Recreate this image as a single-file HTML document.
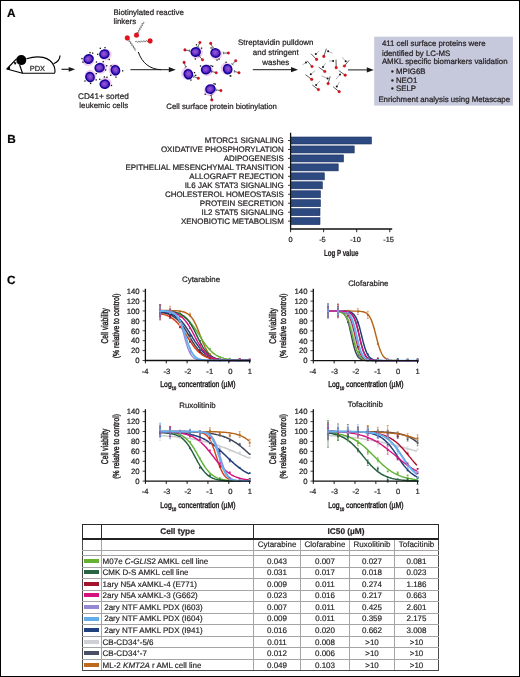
<!DOCTYPE html>
<html><head><meta charset="utf-8"><title>Figure</title>
<style>
html,body{margin:0;padding:0;background:#fff;}
body{width:520px;height:677px;position:relative;overflow:hidden;font-family:"Liberation Sans", sans-serif;color:#231f20;text-rendering:geometricPrecision;}
#frame{position:absolute;left:0;top:0;width:520px;height:677px;box-sizing:border-box;border:1px solid #000;pointer-events:none;}
svg{position:absolute;left:0;top:0;will-change:transform;}
svg text{font-family:"Liberation Sans", sans-serif;text-rendering:geometricPrecision;stroke:#231f20;stroke-width:0.22px;}
svg text.ax{stroke-width:0.42px;}
table{will-change:transform;position:absolute;left:81.5px;top:523.5px;border-collapse:collapse;table-layout:fixed;font-size:8px;-webkit-text-stroke:0.18px #231f20;}
td{padding:0;text-align:center;white-space:nowrap;overflow:hidden;border:1px solid #a4a4a4;line-height:8px;vertical-align:top;}
td:first-child{border-left-color:#4a4a4a;}
td:last-child{border-right-color:#4a4a4a;}
tr:last-child td{border-bottom-color:#474747;}
tr.h1 td{height:14px;font-weight:bold;font-size:8.3px;border-color:#2a2a2a;border-bottom:2px solid #222;padding-top:1.7px;box-sizing:border-box;}
tr.h2 td{height:9px;padding-top:1.6px;}
tr.h3 td{height:4px;}
tr.r td{height:8.85px;padding-top:1.7px;}
td.sw span{display:inline-block;width:14.8px;height:4px;margin-top:1.1px;vertical-align:top;margin-left:-0.6px;}
td.nm{text-align:left;padding-left:0.6px;}
sup{font-size:5px;vertical-align:3px;line-height:0;}
</style></head>
<body>
<svg width="520" height="677" viewBox="0 0 520 677"><text x="7.10" y="16.90" font-size="11.8" text-anchor="start" font-weight="bold" fill="#000" >A</text><text x="7.30" y="142.90" font-size="11.8" text-anchor="start" font-weight="bold" fill="#000" >B</text><text x="6.90" y="284.30" font-size="11.8" text-anchor="start" font-weight="bold" fill="#000" >C</text><g fill="none" stroke="#000" stroke-width="1.15" stroke-linejoin="round"><path d="M26.5,58.8 C38,55 50,56.5 54,66 C55.5,70 55,73 54.5,73.2 L22.5,73.2 L6.9,69 L16.7,58.6"/><path d="M19.6,64.8 L22.5,73.2"/><path d="M53.5,63.8 C58,62 60,58.5 60,55.6"/></g><circle cx="21.3" cy="60.1" r="5.0" fill="#000"/><path d="M6.4,69.2 L9.8,66.6 L10.2,69.8 Z" fill="#000"/><path d="M13.6,62.0 L16.8,62.6 L15.0,65.0 Z" fill="#000"/><text x="29.80" y="70.60" font-size="7.4" text-anchor="start" font-weight="normal" fill="#231f20" >PDX</text><line x1="61.5" y1="69.3" x2="69.7" y2="69.3" stroke="#1a1a1a" stroke-width="1.15"/><path d="M68.7,66.89999999999999 L75.2,69.3 L68.7,71.7 Z" fill="#1a1a1a"/><defs><radialGradient id="cg" cx="0.45" cy="0.45" r="0.6"><stop offset="0" stop-color="#9c5ad6"/><stop offset="0.5" stop-color="#7036c8"/><stop offset="1" stop-color="#2e0cb0"/></radialGradient></defs><g transform="translate(88.6,59.0) rotate(-25)"><ellipse cx="-0.8" cy="1" rx="5.85" ry="5.3999999999999995" fill="#f2d0ef" stroke="#e6b8e6" stroke-width="0.4"/><ellipse cx="0" cy="0" rx="4.55" ry="4.1" fill="url(#cg)" stroke="#14049a" stroke-width="1.5"/></g><rect x="91.97" y="52.51" width="1.3" height="1.3" fill="#111"/><rect x="82.28" y="61.52" width="1.3" height="1.3" fill="#111"/><rect x="81.33" y="57.93" width="1.3" height="1.3" fill="#111"/><rect x="89.38" y="51.98" width="1.3" height="1.3" fill="#111"/><g transform="translate(104.4,54.1) rotate(-15)"><ellipse cx="1" cy="1" rx="5.85" ry="5.3999999999999995" fill="#f2d0ef" stroke="#e6b8e6" stroke-width="0.4"/><ellipse cx="0" cy="0" rx="4.55" ry="4.1" fill="url(#cg)" stroke="#14049a" stroke-width="1.5"/></g><rect x="108.59" y="58.89" width="1.3" height="1.3" fill="#111"/><rect x="104.36" y="47.02" width="1.3" height="1.3" fill="#111"/><rect x="97.06" y="53.69" width="1.3" height="1.3" fill="#111"/><rect x="99.66" y="47.68" width="1.3" height="1.3" fill="#111"/><g transform="translate(99.6,67.7) rotate(-20)"><ellipse cx="1" cy="0.8" rx="5.85" ry="5.3999999999999995" fill="#f2d0ef" stroke="#e6b8e6" stroke-width="0.4"/><ellipse cx="0" cy="0" rx="4.55" ry="4.1" fill="url(#cg)" stroke="#14049a" stroke-width="1.5"/></g><rect x="106.06" y="65.10" width="1.3" height="1.3" fill="#111"/><rect x="104.91" y="69.29" width="1.3" height="1.3" fill="#111"/><rect x="102.62" y="61.01" width="1.3" height="1.3" fill="#111"/><rect x="95.83" y="61.35" width="1.3" height="1.3" fill="#111"/><g transform="translate(115.4,70.2) rotate(70)"><ellipse cx="-0.8" cy="1" rx="5.85" ry="5.3999999999999995" fill="#f2d0ef" stroke="#e6b8e6" stroke-width="0.4"/><ellipse cx="0" cy="0" rx="4.55" ry="4.1" fill="url(#cg)" stroke="#14049a" stroke-width="1.5"/></g><rect x="115.32" y="76.43" width="1.3" height="1.3" fill="#111"/><rect x="110.06" y="74.65" width="1.3" height="1.3" fill="#111"/><rect x="110.38" y="65.14" width="1.3" height="1.3" fill="#111"/><rect x="121.98" y="70.20" width="1.3" height="1.3" fill="#111"/><g transform="translate(90.0,77.1) rotate(75)"><ellipse cx="-1" cy="-0.8" rx="5.85" ry="5.3999999999999995" fill="#f2d0ef" stroke="#e6b8e6" stroke-width="0.4"/><ellipse cx="0" cy="0" rx="4.55" ry="4.1" fill="url(#cg)" stroke="#14049a" stroke-width="1.5"/></g><rect x="89.95" y="82.80" width="1.3" height="1.3" fill="#111"/><rect x="84.33" y="80.38" width="1.3" height="1.3" fill="#111"/><rect x="95.51" y="79.21" width="1.3" height="1.3" fill="#111"/><rect x="95.63" y="72.97" width="1.3" height="1.3" fill="#111"/><g transform="translate(104.8,84.2) rotate(-10)"><ellipse cx="0.8" cy="-1" rx="5.85" ry="5.3999999999999995" fill="#f2d0ef" stroke="#e6b8e6" stroke-width="0.4"/><ellipse cx="0" cy="0" rx="4.55" ry="4.1" fill="url(#cg)" stroke="#14049a" stroke-width="1.5"/></g><rect x="99.12" y="78.65" width="1.3" height="1.3" fill="#111"/><rect x="106.25" y="76.56" width="1.3" height="1.3" fill="#111"/><rect x="103.74" y="76.31" width="1.3" height="1.3" fill="#111"/><rect x="110.85" y="84.82" width="1.3" height="1.3" fill="#111"/><text x="78.00" y="98.80" font-size="8.2" text-anchor="start" font-weight="normal" fill="#231f20" >CD41+ sorted</text><text x="79.30" y="108.30" font-size="7.85" text-anchor="start" font-weight="normal" fill="#231f20" >leukemic cells</text><path d="M127.30,38.00 L127.40,39.47 L129.35,39.66 L128.83,41.55 L130.78,41.74 L130.27,43.63 L132.22,43.82 L131.70,45.72 L133.65,45.91 L133.13,47.80 L135.08,47.99 L134.57,49.88 L135.90,50.50 M136.50,35.20 L137.77,34.44 L137.06,32.61 L138.98,32.21 L138.27,30.37 L140.20,29.98 L139.49,28.14 L141.42,27.74 L140.71,25.91 L142.63,25.51 L141.92,23.67 L143.85,23.28 L143.80,21.80 M150.10,41.00 L148.81,40.33 L147.64,41.90 L146.31,40.48 L145.14,42.05 L143.81,40.63 L142.64,42.20 L141.31,40.78 L140.14,42.35 L138.81,40.93 L137.64,42.50 L136.31,41.08 L135.10,41.90" fill="none" stroke="#333" stroke-width="0.6"/><circle cx="127.3" cy="38.0" r="2.4" fill="#e8101c" stroke="#a00" stroke-width="0.3"/><circle cx="136.5" cy="35.2" r="2.4" fill="#e8101c" stroke="#a00" stroke-width="0.3"/><circle cx="150.1" cy="41.0" r="2.4" fill="#e8101c" stroke="#a00" stroke-width="0.3"/><path d="M138.3,52 C142,63 150,69.3 161,69.7" fill="none" stroke="#111" stroke-width="1.0"/><text x="113.40" y="14.60" font-size="7.88" text-anchor="start" font-weight="normal" fill="#231f20" >Biotinylated reactive</text><text x="113.40" y="23.60" font-size="7.88" text-anchor="start" font-weight="normal" fill="#231f20" >linkers</text><line x1="130.4" y1="69.7" x2="169.8" y2="69.7" stroke="#1a1a1a" stroke-width="1.0"/><path d="M168.8,67.10000000000001 L175.8,69.7 L168.8,72.3 Z" fill="#1a1a1a"/><g transform="translate(195.7,52) rotate(-15)"><ellipse cx="0.8" cy="1" rx="5.85" ry="5.3999999999999995" fill="#f2d0ef" stroke="#e6b8e6" stroke-width="0.4"/><ellipse cx="0" cy="0" rx="4.55" ry="4.1" fill="url(#cg)" stroke="#14049a" stroke-width="1.5"/></g><rect x="200.92" y="47.48" width="1.3" height="1.3" fill="#111"/><rect x="195.85" y="44.15" width="1.3" height="1.3" fill="#111"/><rect x="194.67" y="58.35" width="1.3" height="1.3" fill="#111"/><g transform="translate(215.5,53) rotate(20)"><ellipse cx="1" cy="0.8" rx="5.85" ry="5.3999999999999995" fill="#f2d0ef" stroke="#e6b8e6" stroke-width="0.4"/><ellipse cx="0" cy="0" rx="4.55" ry="4.1" fill="url(#cg)" stroke="#14049a" stroke-width="1.5"/></g><rect x="218.48" y="58.45" width="1.3" height="1.3" fill="#111"/><rect x="210.42" y="47.32" width="1.3" height="1.3" fill="#111"/><rect x="216.42" y="59.39" width="1.3" height="1.3" fill="#111"/><g transform="translate(188.3,74.2) rotate(70)"><ellipse cx="-1" cy="1" rx="5.85" ry="5.3999999999999995" fill="#f2d0ef" stroke="#e6b8e6" stroke-width="0.4"/><ellipse cx="0" cy="0" rx="4.55" ry="4.1" fill="url(#cg)" stroke="#14049a" stroke-width="1.5"/></g><rect x="193.85" y="71.95" width="1.3" height="1.3" fill="#111"/><rect x="195.02" y="74.69" width="1.3" height="1.3" fill="#111"/><rect x="190.25" y="79.41" width="1.3" height="1.3" fill="#111"/><g transform="translate(206.1,69.6) rotate(-10)"><ellipse cx="1" cy="0.8" rx="5.85" ry="5.3999999999999995" fill="#f2d0ef" stroke="#e6b8e6" stroke-width="0.4"/><ellipse cx="0" cy="0" rx="4.55" ry="4.1" fill="url(#cg)" stroke="#14049a" stroke-width="1.5"/></g><rect x="212.04" y="65.66" width="1.3" height="1.3" fill="#111"/><rect x="210.42" y="65.06" width="1.3" height="1.3" fill="#111"/><rect x="199.88" y="65.33" width="1.3" height="1.3" fill="#111"/><g transform="translate(227.7,69.2) rotate(75)"><ellipse cx="-1" cy="1" rx="5.85" ry="5.3999999999999995" fill="#f2d0ef" stroke="#e6b8e6" stroke-width="0.4"/><ellipse cx="0" cy="0" rx="4.55" ry="4.1" fill="url(#cg)" stroke="#14049a" stroke-width="1.5"/></g><rect x="225.41" y="61.59" width="1.3" height="1.3" fill="#111"/><rect x="230.14" y="75.34" width="1.3" height="1.3" fill="#111"/><rect x="229.51" y="75.18" width="1.3" height="1.3" fill="#111"/><g transform="translate(210.4,89.1) rotate(-20)"><ellipse cx="-0.8" cy="1" rx="5.85" ry="5.3999999999999995" fill="#f2d0ef" stroke="#e6b8e6" stroke-width="0.4"/><ellipse cx="0" cy="0" rx="4.55" ry="4.1" fill="url(#cg)" stroke="#14049a" stroke-width="1.5"/></g><rect x="204.57" y="93.61" width="1.3" height="1.3" fill="#111"/><rect x="213.38" y="83.12" width="1.3" height="1.3" fill="#111"/><rect x="214.62" y="83.48" width="1.3" height="1.3" fill="#111"/><path d="M199.90,42.50 L198.04,46.71 M199.23,47.23 L196.61,46.73" stroke="#1a1a1a" stroke-width="0.65" fill="none"/><circle cx="199.90" cy="42.50" r="1.3" fill="#dc0f1c" stroke="#8a0010" stroke-width="0.3"/><path d="M210.70,43.40 L212.76,47.51 M213.92,46.93 L211.86,48.63" stroke="#1a1a1a" stroke-width="0.65" fill="none"/><circle cx="210.70" cy="43.40" r="1.3" fill="#dc0f1c" stroke="#8a0010" stroke-width="0.3"/><path d="M184.90,49.90 L189.42,50.78 M189.66,49.50 L189.76,52.17" stroke="#1a1a1a" stroke-width="0.65" fill="none"/><circle cx="184.90" cy="49.90" r="1.3" fill="#dc0f1c" stroke="#8a0010" stroke-width="0.3"/><path d="M228.40,53.00 L223.80,53.00 M223.80,54.30 L223.20,51.70" stroke="#1a1a1a" stroke-width="0.65" fill="none"/><circle cx="228.40" cy="53.00" r="1.3" fill="#dc0f1c" stroke="#8a0010" stroke-width="0.3"/><path d="M184.10,62.40 L185.64,66.73 M186.87,66.30 L184.62,67.73" stroke="#1a1a1a" stroke-width="0.65" fill="none"/><circle cx="184.10" cy="62.40" r="1.3" fill="#dc0f1c" stroke="#8a0010" stroke-width="0.3"/><path d="M202.50,59.80 L199.48,56.33 M198.50,57.19 L200.06,55.03" stroke="#1a1a1a" stroke-width="0.65" fill="none"/><circle cx="202.50" cy="59.80" r="1.3" fill="#dc0f1c" stroke="#8a0010" stroke-width="0.3"/><path d="M235.70,60.70 L232.55,64.05 M233.49,64.94 L231.19,63.60" stroke="#1a1a1a" stroke-width="0.65" fill="none"/><circle cx="235.70" cy="60.70" r="1.3" fill="#dc0f1c" stroke="#8a0010" stroke-width="0.3"/><path d="M216.20,72.80 L211.81,71.41 M211.42,72.65 L211.64,69.99" stroke="#1a1a1a" stroke-width="0.65" fill="none"/><circle cx="216.20" cy="72.80" r="1.3" fill="#dc0f1c" stroke="#8a0010" stroke-width="0.3"/><path d="M239.00,72.80 L234.62,71.40 M234.22,72.64 L234.44,69.98" stroke="#1a1a1a" stroke-width="0.65" fill="none"/><circle cx="239.00" cy="72.80" r="1.3" fill="#dc0f1c" stroke="#8a0010" stroke-width="0.3"/><path d="M198.30,78.30 L194.04,76.55 M193.55,77.76 L193.98,75.12" stroke="#1a1a1a" stroke-width="0.65" fill="none"/><circle cx="198.30" cy="78.30" r="1.3" fill="#dc0f1c" stroke="#8a0010" stroke-width="0.3"/><path d="M220.90,90.60 L216.35,89.95 M216.16,91.24 L215.94,88.58" stroke="#1a1a1a" stroke-width="0.65" fill="none"/><circle cx="220.90" cy="90.60" r="1.3" fill="#dc0f1c" stroke="#8a0010" stroke-width="0.3"/><path d="M211.80,99.90 L211.21,95.34 M209.92,95.51 L212.42,94.58" stroke="#1a1a1a" stroke-width="0.65" fill="none"/><circle cx="211.80" cy="99.90" r="1.3" fill="#dc0f1c" stroke="#8a0010" stroke-width="0.3"/><text x="166.30" y="108.80" font-size="7.81" text-anchor="start" font-weight="normal" fill="#231f20" >Cell surface protein biotinylation</text><text x="275.80" y="45.40" font-size="7.95" text-anchor="middle" font-weight="normal" fill="#231f20" >Streptavidin pulldown</text><text x="275.80" y="55.20" font-size="7.95" text-anchor="middle" font-weight="normal" fill="#231f20" >and stringent</text><text x="275.80" y="64.60" font-size="7.95" text-anchor="middle" font-weight="normal" fill="#231f20" >washes</text><line x1="252.8" y1="69.7" x2="292.0" y2="69.7" stroke="#1a1a1a" stroke-width="1.0"/><path d="M291.0,67.10000000000001 L298.0,69.7 L291.0,72.3 Z" fill="#1a1a1a"/><path d="M316.6,59.4 L311.1,53.8" stroke="#1a1a1a" stroke-width="0.7" fill="none"/><path d="M315.8,54.1 L319.2,51.0" stroke="#666" stroke-width="0.5" fill="none"/><circle cx="315.8" cy="54.1" r="1.0" fill="#111"/><circle cx="316.6" cy="59.4" r="1.35" fill="#e0101c" stroke="#900" stroke-width="0.25"/><path d="M323.8,56.4 L326.4,48.7" stroke="#1a1a1a" stroke-width="0.7" fill="none"/><path d="M328.1,51.2 L332.5,53.3" stroke="#666" stroke-width="0.5" fill="none"/><circle cx="328.1" cy="51.2" r="1.0" fill="#111"/><circle cx="323.8" cy="56.4" r="1.35" fill="#e0101c" stroke="#900" stroke-width="0.25"/><path d="M312.0,66.5 L307.1,60.8" stroke="#1a1a1a" stroke-width="0.7" fill="none"/><path d="M306.0,62.5 L302.5,64.8" stroke="#666" stroke-width="0.5" fill="none"/><circle cx="306.0" cy="62.5" r="1.0" fill="#111"/><circle cx="312.0" cy="66.5" r="1.35" fill="#e0101c" stroke="#900" stroke-width="0.25"/><path d="M324.8,71.5 L318.6,67.1" stroke="#1a1a1a" stroke-width="0.7" fill="none"/><path d="M323.0,67.1 L325.6,63.1" stroke="#666" stroke-width="0.5" fill="none"/><circle cx="323.0" cy="67.1" r="1.0" fill="#111"/><circle cx="324.8" cy="71.5" r="1.35" fill="#e0101c" stroke="#900" stroke-width="0.25"/><path d="M336.2,67.7 L336.0,59.6" stroke="#1a1a1a" stroke-width="0.7" fill="none"/><path d="M333.1,61.0 L329.0,61.0" stroke="#666" stroke-width="0.5" fill="none"/><circle cx="333.1" cy="61.0" r="1.0" fill="#111"/><circle cx="336.2" cy="67.7" r="1.35" fill="#e0101c" stroke="#900" stroke-width="0.25"/><path d="M344.4,66.0 L349.2,60.2" stroke="#1a1a1a" stroke-width="0.7" fill="none"/><path d="M345.7,61.3 L342.3,57.3" stroke="#666" stroke-width="0.5" fill="none"/><circle cx="345.7" cy="61.3" r="1.0" fill="#111"/><circle cx="344.4" cy="66.0" r="1.35" fill="#e0101c" stroke="#900" stroke-width="0.25"/><path d="M345.2,75.2 L338.8,70.6" stroke="#1a1a1a" stroke-width="0.7" fill="none"/><path d="M340.0,74.4 L336.0,79.2" stroke="#666" stroke-width="0.5" fill="none"/><circle cx="340.0" cy="74.4" r="1.0" fill="#111"/><circle cx="345.2" cy="75.2" r="1.35" fill="#e0101c" stroke="#900" stroke-width="0.25"/><path d="M311.7,79.4 L305.4,74.6" stroke="#1a1a1a" stroke-width="0.7" fill="none"/><path d="M310.8,74.3 L315.2,70.6" stroke="#666" stroke-width="0.5" fill="none"/><circle cx="310.8" cy="74.3" r="1.0" fill="#111"/><circle cx="311.7" cy="79.4" r="1.35" fill="#e0101c" stroke="#900" stroke-width="0.25"/><path d="M328.1,83.6 L330.2,76.3" stroke="#1a1a1a" stroke-width="0.7" fill="none"/><path d="M327.6,78.4 L321.5,75.8" stroke="#666" stroke-width="0.5" fill="none"/><circle cx="327.6" cy="78.4" r="1.0" fill="#111"/><circle cx="328.1" cy="83.6" r="1.35" fill="#e0101c" stroke="#900" stroke-width="0.25"/><path d="M318.4,89.6 L312.3,85.0" stroke="#1a1a1a" stroke-width="0.7" fill="none"/><path d="M316.1,85.0 L319.8,81.0" stroke="#666" stroke-width="0.5" fill="none"/><circle cx="316.1" cy="85.0" r="1.0" fill="#111"/><circle cx="318.4" cy="89.6" r="1.35" fill="#e0101c" stroke="#900" stroke-width="0.25"/><path d="M339.2,91.7 L333.1,86.7" stroke="#1a1a1a" stroke-width="0.7" fill="none"/><path d="M336.8,86.5 L339.4,82.1" stroke="#666" stroke-width="0.5" fill="none"/><circle cx="336.8" cy="86.5" r="1.0" fill="#111"/><circle cx="339.2" cy="91.7" r="1.35" fill="#e0101c" stroke="#900" stroke-width="0.25"/><line x1="348.0" y1="69.9" x2="367.8" y2="69.9" stroke="#1a1a1a" stroke-width="1.0"/><path d="M366.8,67.30000000000001 L373.8,69.9 L366.8,72.5 Z" fill="#1a1a1a"/><rect x="374.2" y="36.7" width="138.7" height="68.9" fill="#c6c8db"/><text x="381.90" y="46.30" font-size="7.85" text-anchor="start" font-weight="normal" fill="#231f20" >411 cell surface proteins were</text><text x="381.90" y="55.80" font-size="7.85" text-anchor="start" font-weight="normal" fill="#231f20" >identified by LC-MS</text><text x="381.90" y="64.30" font-size="7.85" text-anchor="start" font-weight="normal" fill="#231f20" >AMKL specific biomarkers validation</text><text x="391.00" y="74.10" font-size="7.85" text-anchor="start" font-weight="normal" fill="#231f20" >• MPIG6B</text><text x="391.00" y="82.80" font-size="7.85" text-anchor="start" font-weight="normal" fill="#231f20" >• NEO1</text><text x="391.00" y="91.40" font-size="7.85" text-anchor="start" font-weight="normal" fill="#231f20" >• SELP</text><text x="378.40" y="101.50" font-size="7.85" text-anchor="start" font-weight="normal" fill="#231f20" >Enrichment analysis using Metascape</text><rect x="291.20" y="137.00" width="80.20" height="7.0" fill="#2d4a80" stroke="#1b3163" stroke-width="0.6"/><line x1="288.00" y1="140.50" x2="290.6" y2="140.50" stroke="#111" stroke-width="0.8"/><text x="283.80" y="143.35" font-size="7.96" text-anchor="end" font-weight="normal" fill="#231f20" >MTORC1 SIGNALING</text><rect x="291.20" y="145.96" width="63.00" height="7.0" fill="#2d4a80" stroke="#1b3163" stroke-width="0.6"/><line x1="288.00" y1="149.46" x2="290.6" y2="149.46" stroke="#111" stroke-width="0.8"/><text x="283.80" y="152.31" font-size="7.96" text-anchor="end" font-weight="normal" fill="#231f20" >OXIDATIVE PHOSPHORYLATION</text><rect x="291.20" y="154.92" width="52.30" height="7.0" fill="#2d4a80" stroke="#1b3163" stroke-width="0.6"/><line x1="288.00" y1="158.42" x2="290.6" y2="158.42" stroke="#111" stroke-width="0.8"/><text x="283.80" y="161.27" font-size="7.96" text-anchor="end" font-weight="normal" fill="#231f20" >ADIPOGENESIS</text><rect x="291.20" y="163.88" width="47.00" height="7.0" fill="#2d4a80" stroke="#1b3163" stroke-width="0.6"/><line x1="288.00" y1="167.38" x2="290.6" y2="167.38" stroke="#111" stroke-width="0.8"/><text x="283.80" y="170.23" font-size="7.96" text-anchor="end" font-weight="normal" fill="#231f20" >EPITHELIAL MESENCHYMAL TRANSITION</text><rect x="291.20" y="172.84" width="33.10" height="7.0" fill="#2d4a80" stroke="#1b3163" stroke-width="0.6"/><line x1="288.00" y1="176.34" x2="290.6" y2="176.34" stroke="#111" stroke-width="0.8"/><text x="283.80" y="179.19" font-size="7.96" text-anchor="end" font-weight="normal" fill="#231f20" >ALLOGRAFT REJECTION</text><rect x="291.20" y="181.80" width="31.10" height="7.0" fill="#2d4a80" stroke="#1b3163" stroke-width="0.6"/><line x1="288.00" y1="185.30" x2="290.6" y2="185.30" stroke="#111" stroke-width="0.8"/><text x="283.80" y="188.15" font-size="7.96" text-anchor="end" font-weight="normal" fill="#231f20" >IL6 JAK STAT3 SIGNALING</text><rect x="291.20" y="190.76" width="29.20" height="7.0" fill="#2d4a80" stroke="#1b3163" stroke-width="0.6"/><line x1="288.00" y1="194.26" x2="290.6" y2="194.26" stroke="#111" stroke-width="0.8"/><text x="283.80" y="197.11" font-size="7.96" text-anchor="end" font-weight="normal" fill="#231f20" >CHOLESTEROL HOMEOSTASIS</text><rect x="291.20" y="199.72" width="29.20" height="7.0" fill="#2d4a80" stroke="#1b3163" stroke-width="0.6"/><line x1="288.00" y1="203.22" x2="290.6" y2="203.22" stroke="#111" stroke-width="0.8"/><text x="283.80" y="206.07" font-size="7.96" text-anchor="end" font-weight="normal" fill="#231f20" >PROTEIN SECRETION</text><rect x="291.20" y="208.68" width="28.80" height="7.0" fill="#2d4a80" stroke="#1b3163" stroke-width="0.6"/><line x1="288.00" y1="212.18" x2="290.6" y2="212.18" stroke="#111" stroke-width="0.8"/><text x="283.80" y="215.03" font-size="7.96" text-anchor="end" font-weight="normal" fill="#231f20" >IL2 STAT5 SIGNALING</text><rect x="291.20" y="217.64" width="28.80" height="7.0" fill="#2d4a80" stroke="#1b3163" stroke-width="0.6"/><line x1="288.00" y1="221.14" x2="290.6" y2="221.14" stroke="#111" stroke-width="0.8"/><text x="283.80" y="223.99" font-size="7.96" text-anchor="end" font-weight="normal" fill="#231f20" >XENOBIOTIC METABOLISM</text><path d="M290.6,132.8 L290.6,229 L392.2,229" fill="none" stroke="#111" stroke-width="1.3"/><line x1="290.60" y1="229" x2="290.60" y2="232.2" stroke="#111" stroke-width="0.9"/><text x="290.60" y="242.30" font-size="7.4" text-anchor="middle" font-weight="normal" fill="#231f20" >0</text><line x1="323.65" y1="229" x2="323.65" y2="232.2" stroke="#111" stroke-width="0.9"/><text x="322.45" y="242.30" font-size="7.4" text-anchor="middle" font-weight="normal" fill="#231f20" >-5</text><line x1="356.70" y1="229" x2="356.70" y2="232.2" stroke="#111" stroke-width="0.9"/><text x="355.50" y="242.30" font-size="7.4" text-anchor="middle" font-weight="normal" fill="#231f20" >-10</text><line x1="389.75" y1="229" x2="389.75" y2="232.2" stroke="#111" stroke-width="0.9"/><text x="388.55" y="242.30" font-size="7.4" text-anchor="middle" font-weight="normal" fill="#231f20" >-15</text><text x="0" y="0" font-size="8.9" text-anchor="middle" fill="#231f20" font-weight="bold" transform="translate(341.2,255.8) scale(0.695,1)">Log P value</text><text x="201.10" y="281.50" font-size="7.86" text-anchor="middle" font-weight="normal" fill="#231f20" >Cytarabine</text><text class="ax" transform="translate(108.30,325.80) rotate(-90) scale(0.693,1)" font-size="9.7" text-anchor="middle" fill="#231f20">Cell viability</text><text class="ax" transform="translate(118.50,325.80) rotate(-90) scale(0.79,1)" font-size="8.7" text-anchor="middle" fill="#231f20">(% relative to control)</text><text class="ax" transform="translate(160.30,387.30) scale(0.80,1)" font-size="8.6" fill="#231f20">Log<tspan font-size="5.0" dy="2.6">10</tspan><tspan dy="-2.6"> concentration (µM)</tspan></text><path d="M160.2,312.5 L161.5,312.7 L162.7,313.0 L164.0,313.2 L165.2,313.6 L166.5,313.9 L167.7,314.3 L169.0,314.8 L170.2,315.4 L171.5,316.0 L172.7,316.8 L174.0,317.6 L175.2,318.6 L176.5,319.7 L177.7,320.8 L179.0,322.2 L180.2,323.6 L181.5,325.2 L182.7,326.9 L184.0,328.7 L185.2,330.6 L186.5,332.6 L187.7,334.6 L189.0,336.6 L190.2,338.7 L191.5,340.7 L192.7,342.6 L194.0,344.4 L195.2,346.2 L196.5,347.8 L197.7,349.3 L199.0,350.6 L200.2,351.9 L201.5,353.0 L202.7,354.0 L204.0,354.9 L205.2,355.7 L206.5,356.3 L207.7,356.9 L209.0,357.4 L210.2,357.9 L211.5,358.3 L212.7,358.6 L214.0,358.9 L215.2,359.1 L216.5,359.3 L217.7,359.5 L219.0,359.6 L220.3,359.8 L221.5,359.9 L222.8,360.0 L224.0,360.1 L225.3,360.1 L226.5,360.2 L227.8,360.2 L229.0,360.3 L230.3,360.3 L231.5,360.3 L232.8,360.4 L234.0,360.4 L235.3,360.4 L236.5,360.4 L237.8,360.4 L239.0,360.4 L240.3,360.4 L241.5,360.5 L242.8,360.5 L244.0,360.5 L245.3,360.5 L246.5,360.5 L247.8,360.5 L249.0,360.5" fill="none" stroke="#c9c9cc" stroke-width="1.45" stroke-linejoin="round"/><path d="M160.2,312.3 L161.5,312.5 L162.7,312.7 L164.0,312.9 L165.2,313.2 L166.5,313.5 L167.7,313.8 L169.0,314.3 L170.2,314.8 L171.5,315.3 L172.7,316.0 L174.0,316.8 L175.2,317.7 L176.5,318.7 L177.7,319.8 L179.0,321.1 L180.2,322.5 L181.5,324.0 L182.7,325.7 L184.0,327.5 L185.2,329.4 L186.5,331.4 L187.7,333.5 L189.0,335.6 L190.2,337.7 L191.5,339.8 L192.7,341.8 L194.0,343.8 L195.2,345.6 L196.5,347.4 L197.7,349.0 L199.0,350.4 L200.2,351.7 L201.5,352.9 L202.7,354.0 L204.0,354.9 L205.2,355.7 L206.5,356.4 L207.7,357.0 L209.0,357.5 L210.2,358.0 L211.5,358.3 L212.7,358.7 L214.0,359.0 L215.2,359.2 L216.5,359.4 L217.7,359.6 L219.0,359.7 L220.3,359.8 L221.5,359.9 L222.8,360.0 L224.0,360.1 L225.3,360.2 L226.5,360.2 L227.8,360.3 L229.0,360.3 L230.3,360.3 L231.5,360.4 L232.8,360.4 L234.0,360.4 L235.3,360.4 L236.5,360.4 L237.8,360.4 L239.0,360.4 L240.3,360.5 L241.5,360.5 L242.8,360.5 L244.0,360.5 L245.3,360.5 L246.5,360.5 L247.8,360.5 L249.0,360.5" fill="none" stroke="#3c4258" stroke-width="1.45" stroke-linejoin="round"/><path d="M160.2,310.4 L161.5,310.4 L162.7,310.5 L164.0,310.5 L165.2,310.5 L166.5,310.5 L167.7,310.5 L169.0,310.5 L170.2,310.5 L171.5,310.6 L172.7,310.6 L174.0,310.6 L175.2,310.7 L176.5,310.8 L177.7,310.9 L179.0,311.0 L180.2,311.2 L181.5,311.4 L182.7,311.7 L184.0,312.0 L185.2,312.5 L186.5,313.1 L187.7,313.8 L189.0,314.7 L190.2,315.9 L191.5,317.3 L192.7,319.0 L194.0,321.1 L195.2,323.4 L196.5,326.1 L197.7,329.0 L199.0,332.2 L200.2,335.5 L201.5,338.7 L202.7,341.9 L204.0,344.8 L205.2,347.5 L206.5,349.9 L207.7,351.9 L209.0,353.6 L210.2,355.0 L211.5,356.2 L212.7,357.1 L214.0,357.9 L215.2,358.4 L216.5,358.9 L217.7,359.3 L219.0,359.5 L220.3,359.8 L221.5,359.9 L222.8,360.1 L224.0,360.2 L225.3,360.2 L226.5,360.3 L227.8,360.3 L229.0,360.4 L230.3,360.4 L231.5,360.4 L232.8,360.4 L234.0,360.5 L235.3,360.5 L236.5,360.5 L237.8,360.5 L239.0,360.5 L240.3,360.5 L241.5,360.5 L242.8,360.5 L244.0,360.5 L245.3,360.5 L246.5,360.5 L247.8,360.5 L249.0,360.5" fill="none" stroke="#b8651c" stroke-width="1.45" stroke-linejoin="round"/><path d="M160.2,311.3 L161.5,311.3 L162.7,311.4 L164.0,311.5 L165.2,311.5 L166.5,311.7 L167.7,311.8 L169.0,311.9 L170.2,312.1 L171.5,312.3 L172.7,312.5 L174.0,312.8 L175.2,313.1 L176.5,313.4 L177.7,313.8 L179.0,314.3 L180.2,314.8 L181.5,315.4 L182.7,316.1 L184.0,316.9 L185.2,317.8 L186.5,318.8 L187.7,319.9 L189.0,321.1 L190.2,322.5 L191.5,323.9 L192.7,325.5 L194.0,327.2 L195.2,329.0 L196.5,330.9 L197.7,332.8 L199.0,334.7 L200.2,336.7 L201.5,338.7 L202.7,340.6 L204.0,342.4 L205.2,344.2 L206.5,345.9 L207.7,347.5 L209.0,349.0 L210.2,350.3 L211.5,351.5 L212.7,352.6 L214.0,353.6 L215.2,354.5 L216.5,355.3 L217.7,356.0 L219.0,356.6 L220.3,357.1 L221.5,357.6 L222.8,358.0 L224.0,358.4 L225.3,358.7 L226.5,358.9 L227.8,359.1 L229.0,359.3 L230.3,359.5 L231.5,359.7 L232.8,359.8 L234.0,359.9 L235.3,360.0 L236.5,360.0 L237.8,360.1 L239.0,360.2 L240.3,360.2 L241.5,360.3 L242.8,360.3 L244.0,360.3 L245.3,360.4 L246.5,360.4 L247.8,360.4 L249.0,360.4" fill="none" stroke="#5fb236" stroke-width="1.45" stroke-linejoin="round"/><path d="M160.2,311.0 L161.5,311.1 L162.7,311.1 L164.0,311.1 L165.2,311.2 L166.5,311.2 L167.7,311.3 L169.0,311.4 L170.2,311.5 L171.5,311.7 L172.7,311.8 L174.0,312.0 L175.2,312.3 L176.5,312.6 L177.7,312.9 L179.0,313.3 L180.2,313.9 L181.5,314.5 L182.7,315.3 L184.0,316.1 L185.2,317.2 L186.5,318.4 L187.7,319.8 L189.0,321.4 L190.2,323.3 L191.5,325.3 L192.7,327.5 L194.0,329.8 L195.2,332.3 L196.5,334.9 L197.7,337.4 L199.0,340.0 L200.2,342.4 L201.5,344.7 L202.7,346.8 L204.0,348.8 L205.2,350.5 L206.5,352.1 L207.7,353.4 L209.0,354.6 L210.2,355.6 L211.5,356.4 L212.7,357.2 L214.0,357.7 L215.2,358.2 L216.5,358.6 L217.7,359.0 L219.0,359.3 L220.3,359.5 L221.5,359.7 L222.8,359.8 L224.0,359.9 L225.3,360.1 L226.5,360.1 L227.8,360.2 L229.0,360.3 L230.3,360.3 L231.5,360.3 L232.8,360.4 L234.0,360.4 L235.3,360.4 L236.5,360.4 L237.8,360.4 L239.0,360.5 L240.3,360.5 L241.5,360.5 L242.8,360.5 L244.0,360.5 L245.3,360.5 L246.5,360.5 L247.8,360.5 L249.0,360.5" fill="none" stroke="#1f5c3c" stroke-width="1.45" stroke-linejoin="round"/><path d="M160.2,311.7 L161.5,311.8 L162.7,312.0 L164.0,312.2 L165.2,312.4 L166.5,312.7 L167.7,313.0 L169.0,313.3 L170.2,313.7 L171.5,314.2 L172.7,314.7 L174.0,315.4 L175.2,316.1 L176.5,316.9 L177.7,317.8 L179.0,318.9 L180.2,320.0 L181.5,321.3 L182.7,322.8 L184.0,324.3 L185.2,326.0 L186.5,327.8 L187.7,329.7 L189.0,331.6 L190.2,333.7 L191.5,335.7 L192.7,337.8 L194.0,339.8 L195.2,341.8 L196.5,343.6 L197.7,345.4 L199.0,347.1 L200.2,348.7 L201.5,350.1 L202.7,351.4 L204.0,352.6 L205.2,353.6 L206.5,354.5 L207.7,355.4 L209.0,356.1 L210.2,356.7 L211.5,357.2 L212.7,357.7 L214.0,358.1 L215.2,358.5 L216.5,358.8 L217.7,359.0 L219.0,359.2 L220.3,359.4 L221.5,359.6 L222.8,359.7 L224.0,359.8 L225.3,359.9 L226.5,360.0 L227.8,360.1 L229.0,360.2 L230.3,360.2 L231.5,360.3 L232.8,360.3 L234.0,360.3 L235.3,360.4 L236.5,360.4 L237.8,360.4 L239.0,360.4 L240.3,360.4 L241.5,360.4 L242.8,360.4 L244.0,360.5 L245.3,360.5 L246.5,360.5 L247.8,360.5 L249.0,360.5" fill="none" stroke="#1f3b78" stroke-width="1.45" stroke-linejoin="round"/><path d="M160.2,313.7 L161.5,314.0 L162.7,314.2 L164.0,314.6 L165.2,314.9 L166.5,315.3 L167.7,315.8 L169.0,316.4 L170.2,317.1 L171.5,317.8 L172.7,318.6 L174.0,319.6 L175.2,320.7 L176.5,321.9 L177.7,323.2 L179.0,324.6 L180.2,326.2 L181.5,327.9 L182.7,329.7 L184.0,331.5 L185.2,333.5 L186.5,335.5 L187.7,337.5 L189.0,339.4 L190.2,341.4 L191.5,343.2 L192.7,345.0 L194.0,346.7 L195.2,348.3 L196.5,349.7 L197.7,351.1 L199.0,352.3 L200.2,353.3 L201.5,354.3 L202.7,355.1 L204.0,355.9 L205.2,356.5 L206.5,357.1 L207.7,357.6 L209.0,358.0 L210.2,358.4 L211.5,358.7 L212.7,358.9 L214.0,359.2 L215.2,359.4 L216.5,359.5 L217.7,359.7 L219.0,359.8 L220.3,359.9 L221.5,360.0 L222.8,360.1 L224.0,360.1 L225.3,360.2 L226.5,360.2 L227.8,360.3 L229.0,360.3 L230.3,360.3 L231.5,360.4 L232.8,360.4 L234.0,360.4 L235.3,360.4 L236.5,360.4 L237.8,360.4 L239.0,360.5 L240.3,360.5 L241.5,360.5 L242.8,360.5 L244.0,360.5 L245.3,360.5 L246.5,360.5 L247.8,360.5 L249.0,360.5" fill="none" stroke="#dc3c16" stroke-width="1.45" stroke-linejoin="round"/><path d="M160.2,311.2 L161.5,311.2 L162.7,311.3 L164.0,311.4 L165.2,311.5 L166.5,311.6 L167.7,311.7 L169.0,311.9 L170.2,312.1 L171.5,312.3 L172.7,312.6 L174.0,312.9 L175.2,313.4 L176.5,313.8 L177.7,314.4 L179.0,315.1 L180.2,315.9 L181.5,316.8 L182.7,317.9 L184.0,319.2 L185.2,320.6 L186.5,322.2 L187.7,324.0 L189.0,325.9 L190.2,328.0 L191.5,330.2 L192.7,332.5 L194.0,334.9 L195.2,337.3 L196.5,339.7 L197.7,342.0 L199.0,344.2 L200.2,346.2 L201.5,348.1 L202.7,349.8 L204.0,351.3 L205.2,352.7 L206.5,353.9 L207.7,354.9 L209.0,355.8 L210.2,356.6 L211.5,357.2 L212.7,357.8 L214.0,358.2 L215.2,358.6 L216.5,358.9 L217.7,359.2 L219.0,359.4 L220.3,359.6 L221.5,359.8 L222.8,359.9 L224.0,360.0 L225.3,360.1 L226.5,360.2 L227.8,360.2 L229.0,360.3 L230.3,360.3 L231.5,360.3 L232.8,360.4 L234.0,360.4 L235.3,360.4 L236.5,360.4 L237.8,360.4 L239.0,360.5 L240.3,360.5 L241.5,360.5 L242.8,360.5 L244.0,360.5 L245.3,360.5 L246.5,360.5 L247.8,360.5 L249.0,360.5" fill="none" stroke="#d5137f" stroke-width="1.45" stroke-linejoin="round"/><path d="M160.2,311.0 L161.5,311.0 L162.7,311.0 L164.0,311.0 L165.2,311.1 L166.5,311.2 L167.7,311.3 L169.0,311.5 L170.2,311.7 L171.5,312.0 L172.7,312.5 L174.0,313.2 L175.2,314.1 L176.5,315.4 L177.7,317.2 L179.0,319.6 L180.2,322.6 L181.5,326.2 L182.7,330.4 L184.0,334.9 L185.2,339.5 L186.5,343.9 L187.7,347.7 L189.0,350.9 L190.2,353.5 L191.5,355.4 L192.7,356.9 L194.0,358.0 L195.2,358.7 L196.5,359.3 L197.7,359.6 L199.0,359.9 L200.2,360.1 L201.5,360.2 L202.7,360.3 L204.0,360.4 L205.2,360.4 L206.5,360.4 L207.7,360.5 L209.0,360.5 L210.2,360.5 L211.5,360.5 L212.7,360.5 L214.0,360.5 L215.2,360.5 L216.5,360.5 L217.7,360.5 L219.0,360.5 L220.3,360.5 L221.5,360.5 L222.8,360.5 L224.0,360.5 L225.3,360.5 L226.5,360.5 L227.8,360.5 L229.0,360.5 L230.3,360.5 L231.5,360.5 L232.8,360.5 L234.0,360.5 L235.3,360.5 L236.5,360.5 L237.8,360.5 L239.0,360.5 L240.3,360.5 L241.5,360.5 L242.8,360.5 L244.0,360.5 L245.3,360.5 L246.5,360.5 L247.8,360.5 L249.0,360.5" fill="none" stroke="#9a8cd8" stroke-width="1.45" stroke-linejoin="round"/><path d="M160.2,311.0 L161.5,311.0 L162.7,311.1 L164.0,311.1 L165.2,311.2 L166.5,311.3 L167.7,311.5 L169.0,311.7 L170.2,311.9 L171.5,312.3 L172.7,312.8 L174.0,313.5 L175.2,314.4 L176.5,315.5 L177.7,317.1 L179.0,319.0 L180.2,321.3 L181.5,324.2 L182.7,327.5 L184.0,331.2 L185.2,335.1 L186.5,339.0 L187.7,342.7 L189.0,346.2 L190.2,349.2 L191.5,351.7 L192.7,353.8 L194.0,355.4 L195.2,356.7 L196.5,357.7 L197.7,358.4 L199.0,359.0 L200.2,359.4 L201.5,359.7 L202.7,359.9 L204.0,360.1 L205.2,360.2 L206.5,360.3 L207.7,360.3 L209.0,360.4 L210.2,360.4 L211.5,360.4 L212.7,360.5 L214.0,360.5 L215.2,360.5 L216.5,360.5 L217.7,360.5 L219.0,360.5 L220.3,360.5 L221.5,360.5 L222.8,360.5 L224.0,360.5 L225.3,360.5 L226.5,360.5 L227.8,360.5 L229.0,360.5 L230.3,360.5 L231.5,360.5 L232.8,360.5 L234.0,360.5 L235.3,360.5 L236.5,360.5 L237.8,360.5 L239.0,360.5 L240.3,360.5 L241.5,360.5 L242.8,360.5 L244.0,360.5 L245.3,360.5 L246.5,360.5 L247.8,360.5 L249.0,360.5" fill="none" stroke="#62b2f0" stroke-width="1.8" stroke-linejoin="round"/><rect x="248.8" y="359.0" width="1.8" height="1.8" fill="#cfcfd6"/><rect x="238.8" y="359.4" width="1.8" height="1.8" fill="#cfcfd6"/><rect x="228.9" y="359.5" width="1.8" height="1.8" fill="#cfcfd6"/><rect x="218.9" y="358.5" width="1.8" height="1.8" fill="#cfcfd6"/><rect x="209.0" y="356.0" width="1.8" height="1.8" fill="#cfcfd6"/><rect x="199.0" y="348.7" width="1.8" height="1.8" fill="#cfcfd6"/><rect x="189.1" y="336.6" width="1.8" height="1.8" fill="#cfcfd6"/><path d="M180.0,322.7V325.2M179.0,322.7h2M179.0,325.2h2" stroke="#cfcfd6" stroke-width="0.55"/><rect x="179.1" y="323.0" width="1.8" height="1.8" fill="#cfcfd6"/><rect x="169.2" y="314.3" width="1.8" height="1.8" fill="#cfcfd6"/><path d="M160.1,306.4V320.1M159.1,306.4h2M159.1,320.1h2" stroke="#cfcfd6" stroke-width="0.55"/><rect x="159.2" y="312.3" width="1.8" height="1.8" fill="#cfcfd6"/><rect x="248.8" y="359.0" width="1.8" height="1.8" fill="#495066"/><rect x="238.8" y="359.6" width="1.8" height="1.8" fill="#495066"/><rect x="228.9" y="359.2" width="1.8" height="1.8" fill="#495066"/><rect x="218.9" y="359.2" width="1.8" height="1.8" fill="#495066"/><rect x="209.0" y="356.0" width="1.8" height="1.8" fill="#495066"/><rect x="199.0" y="350.3" width="1.8" height="1.8" fill="#495066"/><rect x="189.1" y="335.8" width="1.8" height="1.8" fill="#495066"/><rect x="179.1" y="320.8" width="1.8" height="1.8" fill="#495066"/><path d="M170.1,313.6V318.2M169.1,313.6h2M169.1,318.2h2" stroke="#495066" stroke-width="0.55"/><rect x="169.2" y="315.0" width="1.8" height="1.8" fill="#495066"/><path d="M160.1,304.8V318.2M159.1,304.8h2M159.1,318.2h2" stroke="#495066" stroke-width="0.55"/><rect x="159.2" y="310.6" width="1.8" height="1.8" fill="#495066"/><rect x="248.8" y="359.6" width="1.8" height="1.8" fill="#bd6a1a"/><rect x="238.8" y="359.4" width="1.8" height="1.8" fill="#bd6a1a"/><rect x="228.9" y="359.6" width="1.8" height="1.8" fill="#bd6a1a"/><rect x="218.9" y="359.6" width="1.8" height="1.8" fill="#bd6a1a"/><rect x="209.0" y="353.2" width="1.8" height="1.8" fill="#bd6a1a"/><rect x="199.0" y="335.2" width="1.8" height="1.8" fill="#bd6a1a"/><path d="M190.0,313.1V316.7M189.0,313.1h2M189.0,316.7h2" stroke="#bd6a1a" stroke-width="0.55"/><rect x="189.1" y="314.0" width="1.8" height="1.8" fill="#bd6a1a"/><rect x="179.1" y="310.6" width="1.8" height="1.8" fill="#bd6a1a"/><path d="M170.1,306.2V312.6M169.1,306.2h2M169.1,312.6h2" stroke="#bd6a1a" stroke-width="0.55"/><rect x="169.2" y="308.5" width="1.8" height="1.8" fill="#bd6a1a"/><path d="M160.1,306.2V314.5M159.1,306.2h2M159.1,314.5h2" stroke="#bd6a1a" stroke-width="0.55"/><rect x="159.2" y="309.4" width="1.8" height="1.8" fill="#bd6a1a"/><rect x="248.8" y="359.6" width="1.8" height="1.8" fill="#66b032"/><rect x="238.8" y="359.6" width="1.8" height="1.8" fill="#66b032"/><rect x="228.9" y="357.8" width="1.8" height="1.8" fill="#66b032"/><rect x="218.9" y="356.2" width="1.8" height="1.8" fill="#66b032"/><rect x="209.0" y="347.9" width="1.8" height="1.8" fill="#66b032"/><rect x="199.0" y="335.1" width="1.8" height="1.8" fill="#66b032"/><rect x="189.1" y="322.2" width="1.8" height="1.8" fill="#66b032"/><path d="M180.0,313.5V316.0M179.0,313.5h2M179.0,316.0h2" stroke="#66b032" stroke-width="0.55"/><rect x="179.1" y="313.8" width="1.8" height="1.8" fill="#66b032"/><rect x="169.2" y="311.2" width="1.8" height="1.8" fill="#66b032"/><path d="M160.1,305.4V316.3M159.1,305.4h2M159.1,316.3h2" stroke="#66b032" stroke-width="0.55"/><rect x="159.2" y="310.0" width="1.8" height="1.8" fill="#66b032"/><rect x="248.8" y="359.4" width="1.8" height="1.8" fill="#2a6446"/><rect x="238.8" y="358.7" width="1.8" height="1.8" fill="#2a6446"/><rect x="228.9" y="359.6" width="1.8" height="1.8" fill="#2a6446"/><rect x="218.9" y="359.1" width="1.8" height="1.8" fill="#2a6446"/><rect x="209.0" y="355.7" width="1.8" height="1.8" fill="#2a6446"/><rect x="199.0" y="340.0" width="1.8" height="1.8" fill="#2a6446"/><rect x="189.1" y="321.8" width="1.8" height="1.8" fill="#2a6446"/><rect x="179.1" y="312.7" width="1.8" height="1.8" fill="#2a6446"/><path d="M170.1,309.4V312.8M169.1,309.4h2M169.1,312.8h2" stroke="#2a6446" stroke-width="0.55"/><rect x="169.2" y="310.2" width="1.8" height="1.8" fill="#2a6446"/><path d="M160.1,304.8V316.8M159.1,304.8h2M159.1,316.8h2" stroke="#2a6446" stroke-width="0.55"/><rect x="159.2" y="309.9" width="1.8" height="1.8" fill="#2a6446"/><rect x="248.8" y="359.6" width="1.8" height="1.8" fill="#22427e"/><rect x="238.8" y="359.6" width="1.8" height="1.8" fill="#22427e"/><rect x="228.9" y="359.6" width="1.8" height="1.8" fill="#22427e"/><rect x="218.9" y="359.1" width="1.8" height="1.8" fill="#22427e"/><rect x="209.0" y="355.2" width="1.8" height="1.8" fill="#22427e"/><rect x="199.0" y="349.1" width="1.8" height="1.8" fill="#22427e"/><rect x="189.1" y="334.4" width="1.8" height="1.8" fill="#22427e"/><rect x="179.1" y="319.5" width="1.8" height="1.8" fill="#22427e"/><path d="M170.1,311.2V316.5M169.1,311.2h2M169.1,316.5h2" stroke="#22427e" stroke-width="0.55"/><rect x="169.2" y="312.9" width="1.8" height="1.8" fill="#22427e"/><path d="M160.1,310.0V314.4M159.1,310.0h2M159.1,314.4h2" stroke="#22427e" stroke-width="0.55"/><rect x="159.2" y="311.3" width="1.8" height="1.8" fill="#22427e"/><rect x="248.8" y="359.6" width="1.8" height="1.8" fill="#a3132e"/><rect x="238.8" y="358.4" width="1.8" height="1.8" fill="#a3132e"/><rect x="228.9" y="359.4" width="1.8" height="1.8" fill="#a3132e"/><rect x="218.9" y="358.3" width="1.8" height="1.8" fill="#a3132e"/><rect x="209.0" y="358.1" width="1.8" height="1.8" fill="#a3132e"/><rect x="199.0" y="351.2" width="1.8" height="1.8" fill="#a3132e"/><rect x="189.1" y="340.9" width="1.8" height="1.8" fill="#a3132e"/><rect x="179.1" y="326.4" width="1.8" height="1.8" fill="#a3132e"/><path d="M170.1,313.7V318.2M169.1,313.7h2M169.1,318.2h2" stroke="#a3132e" stroke-width="0.55"/><rect x="169.2" y="315.1" width="1.8" height="1.8" fill="#a3132e"/><path d="M160.1,308.9V319.8M159.1,308.9h2M159.1,319.8h2" stroke="#a3132e" stroke-width="0.55"/><rect x="159.2" y="313.4" width="1.8" height="1.8" fill="#a3132e"/><rect x="248.8" y="358.4" width="1.8" height="1.8" fill="#d5137f"/><rect x="238.8" y="358.1" width="1.8" height="1.8" fill="#d5137f"/><rect x="228.9" y="359.6" width="1.8" height="1.8" fill="#d5137f"/><rect x="218.9" y="358.2" width="1.8" height="1.8" fill="#d5137f"/><rect x="209.0" y="356.0" width="1.8" height="1.8" fill="#d5137f"/><rect x="199.0" y="343.9" width="1.8" height="1.8" fill="#d5137f"/><rect x="189.1" y="327.3" width="1.8" height="1.8" fill="#d5137f"/><rect x="179.1" y="315.8" width="1.8" height="1.8" fill="#d5137f"/><path d="M170.1,309.1V313.5M169.1,309.1h2M169.1,313.5h2" stroke="#d5137f" stroke-width="0.55"/><rect x="169.2" y="310.4" width="1.8" height="1.8" fill="#d5137f"/><path d="M160.1,304.8V316.4M159.1,304.8h2M159.1,316.4h2" stroke="#d5137f" stroke-width="0.55"/><rect x="159.2" y="309.7" width="1.8" height="1.8" fill="#d5137f"/><rect x="248.8" y="359.6" width="1.8" height="1.8" fill="#948ad2"/><rect x="238.8" y="359.6" width="1.8" height="1.8" fill="#948ad2"/><rect x="228.9" y="359.6" width="1.8" height="1.8" fill="#948ad2"/><rect x="218.9" y="359.4" width="1.8" height="1.8" fill="#948ad2"/><rect x="209.0" y="359.6" width="1.8" height="1.8" fill="#948ad2"/><rect x="199.0" y="358.9" width="1.8" height="1.8" fill="#948ad2"/><rect x="189.1" y="351.0" width="1.8" height="1.8" fill="#948ad2"/><rect x="179.1" y="320.2" width="1.8" height="1.8" fill="#948ad2"/><path d="M170.1,309.4V312.9M169.1,309.4h2M169.1,312.9h2" stroke="#948ad2" stroke-width="0.55"/><rect x="169.2" y="310.3" width="1.8" height="1.8" fill="#948ad2"/><path d="M160.1,305.4V317.5M159.1,305.4h2M159.1,317.5h2" stroke="#948ad2" stroke-width="0.55"/><rect x="159.2" y="310.5" width="1.8" height="1.8" fill="#948ad2"/><rect x="248.8" y="359.6" width="1.8" height="1.8" fill="#63aeea"/><rect x="238.8" y="359.3" width="1.8" height="1.8" fill="#63aeea"/><rect x="228.9" y="358.7" width="1.8" height="1.8" fill="#63aeea"/><rect x="218.9" y="358.1" width="1.8" height="1.8" fill="#63aeea"/><rect x="209.0" y="359.1" width="1.8" height="1.8" fill="#63aeea"/><rect x="199.0" y="358.7" width="1.8" height="1.8" fill="#63aeea"/><rect x="189.1" y="347.5" width="1.8" height="1.8" fill="#63aeea"/><rect x="179.1" y="319.9" width="1.8" height="1.8" fill="#63aeea"/><rect x="169.2" y="312.1" width="1.8" height="1.8" fill="#63aeea"/><path d="M160.1,308.0V314.4M159.1,308.0h2M159.1,314.4h2" stroke="#63aeea" stroke-width="0.55"/><rect x="159.2" y="310.3" width="1.8" height="1.8" fill="#63aeea"/><path d="M145.4,288.70 L145.4,360.5 L250.45,360.5" fill="none" stroke="#111" stroke-width="1.3"/><line x1="142.60" y1="360.50" x2="145.4" y2="360.50" stroke="#111" stroke-width="0.8"/><text x="139.60" y="363.25" font-size="7.75" text-anchor="end" font-weight="normal" fill="#231f20" >0</text><line x1="142.60" y1="350.59" x2="145.4" y2="350.59" stroke="#111" stroke-width="0.8"/><text x="139.60" y="353.34" font-size="7.75" text-anchor="end" font-weight="normal" fill="#231f20" >20</text><line x1="142.60" y1="340.67" x2="145.4" y2="340.67" stroke="#111" stroke-width="0.8"/><text x="139.60" y="343.42" font-size="7.75" text-anchor="end" font-weight="normal" fill="#231f20" >40</text><line x1="142.60" y1="330.76" x2="145.4" y2="330.76" stroke="#111" stroke-width="0.8"/><text x="139.60" y="333.51" font-size="7.75" text-anchor="end" font-weight="normal" fill="#231f20" >60</text><line x1="142.60" y1="320.84" x2="145.4" y2="320.84" stroke="#111" stroke-width="0.8"/><text x="139.60" y="323.59" font-size="7.75" text-anchor="end" font-weight="normal" fill="#231f20" >80</text><line x1="142.60" y1="310.93" x2="145.4" y2="310.93" stroke="#111" stroke-width="0.8"/><text x="139.60" y="313.68" font-size="7.75" text-anchor="end" font-weight="normal" fill="#231f20" >100</text><line x1="142.60" y1="301.02" x2="145.4" y2="301.02" stroke="#111" stroke-width="0.8"/><text x="139.60" y="303.77" font-size="7.75" text-anchor="end" font-weight="normal" fill="#231f20" >120</text><line x1="142.60" y1="291.10" x2="145.4" y2="291.10" stroke="#111" stroke-width="0.8"/><text x="139.60" y="293.85" font-size="7.75" text-anchor="end" font-weight="normal" fill="#231f20" >140</text><line x1="145.40" y1="360.5" x2="145.40" y2="363.30" stroke="#111" stroke-width="1.0"/><text x="145.05" y="373.50" font-size="7.6" text-anchor="middle" font-weight="normal" fill="#231f20" >-4</text><line x1="166.25" y1="360.5" x2="166.25" y2="363.30" stroke="#111" stroke-width="1.0"/><text x="166.80" y="373.50" font-size="7.6" text-anchor="middle" font-weight="normal" fill="#231f20" >-3</text><line x1="187.10" y1="360.5" x2="187.10" y2="363.30" stroke="#111" stroke-width="1.0"/><text x="187.90" y="373.50" font-size="7.6" text-anchor="middle" font-weight="normal" fill="#231f20" >-2</text><line x1="207.95" y1="360.5" x2="207.95" y2="363.30" stroke="#111" stroke-width="1.0"/><text x="209.75" y="373.50" font-size="7.6" text-anchor="middle" font-weight="normal" fill="#231f20" >-1</text><line x1="228.80" y1="360.5" x2="228.80" y2="363.30" stroke="#111" stroke-width="1.0"/><text x="230.25" y="373.50" font-size="7.6" text-anchor="middle" font-weight="normal" fill="#231f20" >0</text><line x1="249.65" y1="360.5" x2="249.65" y2="363.30" stroke="#111" stroke-width="1.0"/><text x="249.75" y="373.50" font-size="7.6" text-anchor="middle" font-weight="normal" fill="#231f20" >1</text><text x="368.30" y="285.80" font-size="7.86" text-anchor="middle" font-weight="normal" fill="#231f20" >Clofarabine</text><text class="ax" transform="translate(276.20,325.90) rotate(-90) scale(0.693,1)" font-size="9.7" text-anchor="middle" fill="#231f20">Cell viability</text><text class="ax" transform="translate(286.40,325.90) rotate(-90) scale(0.79,1)" font-size="8.7" text-anchor="middle" fill="#231f20">(% relative to control)</text><text class="ax" transform="translate(328.20,387.40) scale(0.80,1)" font-size="8.6" fill="#231f20">Log<tspan font-size="5.0" dy="2.6">10</tspan><tspan dy="-2.6"> concentration (µM)</tspan></text><path d="M328.1,311.0 L329.4,311.0 L330.6,311.0 L331.9,311.1 L333.1,311.1 L334.4,311.1 L335.6,311.1 L336.9,311.2 L338.1,311.2 L339.4,311.3 L340.6,311.5 L341.9,311.8 L343.1,312.2 L344.4,312.8 L345.6,313.7 L346.9,315.0 L348.1,317.0 L349.4,319.7 L350.6,323.4 L351.9,327.9 L353.1,333.1 L354.4,338.5 L355.6,343.7 L356.9,348.3 L358.1,351.9 L359.4,354.6 L360.6,356.6 L361.9,357.9 L363.1,358.9 L364.4,359.5 L365.6,359.9 L366.9,360.1 L368.1,360.3 L369.4,360.4 L370.6,360.5 L371.9,360.5 L373.1,360.5 L374.4,360.6 L375.6,360.6 L376.9,360.6 L378.1,360.6 L379.4,360.6 L380.6,360.6 L381.9,360.6 L383.1,360.6 L384.4,360.6 L385.6,360.6 L386.9,360.6 L388.2,360.6 L389.4,360.6 L390.7,360.6 L391.9,360.6 L393.2,360.6 L394.4,360.6 L395.7,360.6 L396.9,360.6 L398.2,360.6 L399.4,360.6 L400.7,360.6 L401.9,360.6 L403.2,360.6 L404.4,360.6 L405.7,360.6 L406.9,360.6 L408.2,360.6 L409.4,360.6 L410.7,360.6 L411.9,360.6 L413.2,360.6 L414.4,360.6 L415.7,360.6 L416.9,360.6" fill="none" stroke="#c9c9cc" stroke-width="1.45" stroke-linejoin="round"/><path d="M328.1,311.0 L329.4,311.0 L330.6,311.0 L331.9,311.1 L333.1,311.1 L334.4,311.1 L335.6,311.2 L336.9,311.2 L338.1,311.4 L339.4,311.6 L340.6,311.9 L341.9,312.3 L343.1,313.1 L344.4,314.3 L345.6,316.0 L346.9,318.5 L348.1,322.0 L349.4,326.6 L350.6,332.0 L351.9,337.8 L353.1,343.3 L354.4,348.2 L355.6,352.0 L356.9,354.9 L358.1,356.9 L359.4,358.2 L360.6,359.1 L361.9,359.6 L363.1,360.0 L364.4,360.2 L365.6,360.4 L366.9,360.4 L368.1,360.5 L369.4,360.5 L370.6,360.6 L371.9,360.6 L373.1,360.6 L374.4,360.6 L375.6,360.6 L376.9,360.6 L378.1,360.6 L379.4,360.6 L380.6,360.6 L381.9,360.6 L383.1,360.6 L384.4,360.6 L385.6,360.6 L386.9,360.6 L388.2,360.6 L389.4,360.6 L390.7,360.6 L391.9,360.6 L393.2,360.6 L394.4,360.6 L395.7,360.6 L396.9,360.6 L398.2,360.6 L399.4,360.6 L400.7,360.6 L401.9,360.6 L403.2,360.6 L404.4,360.6 L405.7,360.6 L406.9,360.6 L408.2,360.6 L409.4,360.6 L410.7,360.6 L411.9,360.6 L413.2,360.6 L414.4,360.6 L415.7,360.6 L416.9,360.6" fill="none" stroke="#3c4258" stroke-width="1.45" stroke-linejoin="round"/><path d="M328.1,311.0 L329.4,311.0 L330.6,311.0 L331.9,311.0 L333.1,311.0 L334.4,311.0 L335.6,311.0 L336.9,311.0 L338.1,311.0 L339.4,311.0 L340.6,311.0 L341.9,311.0 L343.1,311.0 L344.4,311.0 L345.6,311.0 L346.9,311.0 L348.1,311.0 L349.4,311.0 L350.6,311.0 L351.9,311.1 L353.1,311.1 L354.4,311.1 L355.6,311.1 L356.9,311.1 L358.1,311.2 L359.4,311.3 L360.6,311.4 L361.9,311.6 L363.1,311.8 L364.4,312.2 L365.6,312.7 L366.9,313.5 L368.1,314.7 L369.4,316.3 L370.6,318.5 L371.9,321.4 L373.1,325.0 L374.4,329.3 L375.6,334.2 L376.9,339.1 L378.1,343.8 L379.4,347.9 L380.6,351.3 L381.9,354.0 L383.1,356.0 L384.4,357.4 L385.6,358.4 L386.9,359.1 L388.2,359.6 L389.4,359.9 L390.7,360.1 L391.9,360.3 L393.2,360.4 L394.4,360.5 L395.7,360.5 L396.9,360.5 L398.2,360.6 L399.4,360.6 L400.7,360.6 L401.9,360.6 L403.2,360.6 L404.4,360.6 L405.7,360.6 L406.9,360.6 L408.2,360.6 L409.4,360.6 L410.7,360.6 L411.9,360.6 L413.2,360.6 L414.4,360.6 L415.7,360.6 L416.9,360.6" fill="none" stroke="#b8651c" stroke-width="1.45" stroke-linejoin="round"/><path d="M328.1,311.1 L329.4,311.1 L330.6,311.1 L331.9,311.1 L333.1,311.1 L334.4,311.2 L335.6,311.3 L336.9,311.4 L338.1,311.5 L339.4,311.8 L340.6,312.1 L341.9,312.6 L343.1,313.4 L344.4,314.4 L345.6,316.0 L346.9,318.0 L348.1,320.8 L349.4,324.3 L350.6,328.6 L351.9,333.3 L353.1,338.3 L354.4,343.0 L355.6,347.3 L356.9,350.8 L358.1,353.6 L359.4,355.7 L360.6,357.2 L361.9,358.3 L363.1,359.0 L364.4,359.5 L365.6,359.9 L366.9,360.1 L368.1,360.3 L369.4,360.4 L370.6,360.5 L371.9,360.5 L373.1,360.5 L374.4,360.6 L375.6,360.6 L376.9,360.6 L378.1,360.6 L379.4,360.6 L380.6,360.6 L381.9,360.6 L383.1,360.6 L384.4,360.6 L385.6,360.6 L386.9,360.6 L388.2,360.6 L389.4,360.6 L390.7,360.6 L391.9,360.6 L393.2,360.6 L394.4,360.6 L395.7,360.6 L396.9,360.6 L398.2,360.6 L399.4,360.6 L400.7,360.6 L401.9,360.6 L403.2,360.6 L404.4,360.6 L405.7,360.6 L406.9,360.6 L408.2,360.6 L409.4,360.6 L410.7,360.6 L411.9,360.6 L413.2,360.6 L414.4,360.6 L415.7,360.6 L416.9,360.6" fill="none" stroke="#5fb236" stroke-width="1.45" stroke-linejoin="round"/><path d="M328.1,311.0 L329.4,311.0 L330.6,311.0 L331.9,311.0 L333.1,311.0 L334.4,311.0 L335.6,311.0 L336.9,311.0 L338.1,311.1 L339.4,311.1 L340.6,311.1 L341.9,311.1 L343.1,311.2 L344.4,311.3 L345.6,311.4 L346.9,311.6 L348.1,311.9 L349.4,312.4 L350.6,313.2 L351.9,314.3 L353.1,315.9 L354.4,318.3 L355.6,321.4 L356.9,325.5 L358.1,330.4 L359.4,335.8 L360.6,341.2 L361.9,346.1 L363.1,350.2 L364.4,353.4 L365.6,355.7 L366.9,357.3 L368.1,358.5 L369.4,359.2 L370.6,359.7 L371.9,360.0 L373.1,360.2 L374.4,360.4 L375.6,360.4 L376.9,360.5 L378.1,360.5 L379.4,360.6 L380.6,360.6 L381.9,360.6 L383.1,360.6 L384.4,360.6 L385.6,360.6 L386.9,360.6 L388.2,360.6 L389.4,360.6 L390.7,360.6 L391.9,360.6 L393.2,360.6 L394.4,360.6 L395.7,360.6 L396.9,360.6 L398.2,360.6 L399.4,360.6 L400.7,360.6 L401.9,360.6 L403.2,360.6 L404.4,360.6 L405.7,360.6 L406.9,360.6 L408.2,360.6 L409.4,360.6 L410.7,360.6 L411.9,360.6 L413.2,360.6 L414.4,360.6 L415.7,360.6 L416.9,360.6" fill="none" stroke="#1f5c3c" stroke-width="1.45" stroke-linejoin="round"/><path d="M328.1,311.0 L329.4,311.0 L330.6,311.0 L331.9,311.0 L333.1,311.0 L334.4,311.0 L335.6,311.0 L336.9,311.0 L338.1,311.1 L339.4,311.1 L340.6,311.1 L341.9,311.1 L343.1,311.1 L344.4,311.2 L345.6,311.3 L346.9,311.4 L348.1,311.6 L349.4,311.9 L350.6,312.3 L351.9,312.9 L353.1,313.8 L354.4,315.1 L355.6,316.9 L356.9,319.4 L358.1,322.7 L359.4,326.8 L360.6,331.6 L361.9,336.7 L363.1,341.7 L364.4,346.3 L365.6,350.1 L366.9,353.1 L368.1,355.4 L369.4,357.0 L370.6,358.2 L371.9,359.0 L373.1,359.5 L374.4,359.9 L375.6,360.1 L376.9,360.3 L378.1,360.4 L379.4,360.5 L380.6,360.5 L381.9,360.5 L383.1,360.6 L384.4,360.6 L385.6,360.6 L386.9,360.6 L388.2,360.6 L389.4,360.6 L390.7,360.6 L391.9,360.6 L393.2,360.6 L394.4,360.6 L395.7,360.6 L396.9,360.6 L398.2,360.6 L399.4,360.6 L400.7,360.6 L401.9,360.6 L403.2,360.6 L404.4,360.6 L405.7,360.6 L406.9,360.6 L408.2,360.6 L409.4,360.6 L410.7,360.6 L411.9,360.6 L413.2,360.6 L414.4,360.6 L415.7,360.6 L416.9,360.6" fill="none" stroke="#1f3b78" stroke-width="1.45" stroke-linejoin="round"/><path d="M328.1,311.0 L329.4,311.0 L330.6,311.0 L331.9,311.0 L333.1,311.1 L334.4,311.1 L335.6,311.1 L336.9,311.1 L338.1,311.1 L339.4,311.2 L340.6,311.3 L341.9,311.5 L343.1,311.7 L344.4,312.1 L345.6,312.6 L346.9,313.5 L348.1,314.8 L349.4,316.6 L350.6,319.2 L351.9,322.7 L353.1,327.1 L354.4,332.2 L355.6,337.6 L356.9,342.9 L358.1,347.6 L359.4,351.4 L360.6,354.2 L361.9,356.3 L363.1,357.8 L364.4,358.7 L365.6,359.4 L366.9,359.8 L368.1,360.1 L369.4,360.3 L370.6,360.4 L371.9,360.5 L373.1,360.5 L374.4,360.5 L375.6,360.6 L376.9,360.6 L378.1,360.6 L379.4,360.6 L380.6,360.6 L381.9,360.6 L383.1,360.6 L384.4,360.6 L385.6,360.6 L386.9,360.6 L388.2,360.6 L389.4,360.6 L390.7,360.6 L391.9,360.6 L393.2,360.6 L394.4,360.6 L395.7,360.6 L396.9,360.6 L398.2,360.6 L399.4,360.6 L400.7,360.6 L401.9,360.6 L403.2,360.6 L404.4,360.6 L405.7,360.6 L406.9,360.6 L408.2,360.6 L409.4,360.6 L410.7,360.6 L411.9,360.6 L413.2,360.6 L414.4,360.6 L415.7,360.6 L416.9,360.6" fill="none" stroke="#b0102e" stroke-width="1.45" stroke-linejoin="round"/><path d="M328.1,311.0 L329.4,311.0 L330.6,311.0 L331.9,311.0 L333.1,311.0 L334.4,311.1 L335.6,311.1 L336.9,311.1 L338.1,311.1 L339.4,311.2 L340.6,311.2 L341.9,311.4 L343.1,311.5 L344.4,311.8 L345.6,312.2 L346.9,312.9 L348.1,313.9 L349.4,315.3 L350.6,317.4 L351.9,320.3 L353.1,324.1 L354.4,328.7 L355.6,334.0 L356.9,339.4 L358.1,344.6 L359.4,348.9 L360.6,352.4 L361.9,355.0 L363.1,356.9 L364.4,358.1 L365.6,359.0 L366.9,359.5 L368.1,359.9 L369.4,360.2 L370.6,360.3 L371.9,360.4 L373.1,360.5 L374.4,360.5 L375.6,360.6 L376.9,360.6 L378.1,360.6 L379.4,360.6 L380.6,360.6 L381.9,360.6 L383.1,360.6 L384.4,360.6 L385.6,360.6 L386.9,360.6 L388.2,360.6 L389.4,360.6 L390.7,360.6 L391.9,360.6 L393.2,360.6 L394.4,360.6 L395.7,360.6 L396.9,360.6 L398.2,360.6 L399.4,360.6 L400.7,360.6 L401.9,360.6 L403.2,360.6 L404.4,360.6 L405.7,360.6 L406.9,360.6 L408.2,360.6 L409.4,360.6 L410.7,360.6 L411.9,360.6 L413.2,360.6 L414.4,360.6 L415.7,360.6 L416.9,360.6" fill="none" stroke="#9a8cd8" stroke-width="1.45" stroke-linejoin="round"/><path d="M328.1,311.0 L329.4,311.0 L330.6,311.0 L331.9,311.0 L333.1,311.0 L334.4,311.0 L335.6,311.1 L336.9,311.1 L338.1,311.1 L339.4,311.1 L340.6,311.2 L341.9,311.3 L343.1,311.4 L344.4,311.7 L345.6,312.0 L346.9,312.5 L348.1,313.3 L349.4,314.5 L350.6,316.3 L351.9,318.7 L353.1,322.0 L354.4,326.3 L355.6,331.3 L356.9,336.7 L358.1,342.1 L359.4,346.9 L360.6,350.8 L361.9,353.8 L363.1,356.0 L364.4,357.6 L365.6,358.6 L366.9,359.3 L368.1,359.8 L369.4,360.1 L370.6,360.2 L371.9,360.4 L373.1,360.5 L374.4,360.5 L375.6,360.5 L376.9,360.6 L378.1,360.6 L379.4,360.6 L380.6,360.6 L381.9,360.6 L383.1,360.6 L384.4,360.6 L385.6,360.6 L386.9,360.6 L388.2,360.6 L389.4,360.6 L390.7,360.6 L391.9,360.6 L393.2,360.6 L394.4,360.6 L395.7,360.6 L396.9,360.6 L398.2,360.6 L399.4,360.6 L400.7,360.6 L401.9,360.6 L403.2,360.6 L404.4,360.6 L405.7,360.6 L406.9,360.6 L408.2,360.6 L409.4,360.6 L410.7,360.6 L411.9,360.6 L413.2,360.6 L414.4,360.6 L415.7,360.6 L416.9,360.6" fill="none" stroke="#62b2f0" stroke-width="1.8" stroke-linejoin="round"/><path d="M328.1,311.0 L329.4,311.0 L330.6,311.0 L331.9,311.0 L333.1,311.0 L334.4,311.0 L335.6,311.0 L336.9,311.0 L338.1,311.1 L339.4,311.1 L340.6,311.1 L341.9,311.1 L343.1,311.2 L344.4,311.3 L345.6,311.4 L346.9,311.7 L348.1,312.0 L349.4,312.5 L350.6,313.3 L351.9,314.5 L353.1,316.3 L354.4,318.7 L355.6,322.0 L356.9,326.3 L358.1,331.3 L359.4,336.7 L360.6,342.1 L361.9,346.9 L363.1,350.8 L364.4,353.8 L365.6,356.0 L366.9,357.6 L368.1,358.6 L369.4,359.3 L370.6,359.8 L371.9,360.1 L373.1,360.2 L374.4,360.4 L375.6,360.5 L376.9,360.5 L378.1,360.5 L379.4,360.6 L380.6,360.6 L381.9,360.6 L383.1,360.6 L384.4,360.6 L385.6,360.6 L386.9,360.6 L388.2,360.6 L389.4,360.6 L390.7,360.6 L391.9,360.6 L393.2,360.6 L394.4,360.6 L395.7,360.6 L396.9,360.6 L398.2,360.6 L399.4,360.6 L400.7,360.6 L401.9,360.6 L403.2,360.6 L404.4,360.6 L405.7,360.6 L406.9,360.6 L408.2,360.6 L409.4,360.6 L410.7,360.6 L411.9,360.6 L413.2,360.6 L414.4,360.6 L415.7,360.6 L416.9,360.6" fill="none" stroke="#d5137f" stroke-width="1.45" stroke-linejoin="round"/><rect x="416.7" y="359.7" width="1.8" height="1.8" fill="#cfcfd6"/><rect x="406.7" y="358.1" width="1.8" height="1.8" fill="#cfcfd6"/><rect x="396.8" y="359.7" width="1.8" height="1.8" fill="#cfcfd6"/><rect x="386.8" y="359.6" width="1.8" height="1.8" fill="#cfcfd6"/><rect x="376.9" y="359.7" width="1.8" height="1.8" fill="#cfcfd6"/><rect x="366.9" y="358.9" width="1.8" height="1.8" fill="#cfcfd6"/><rect x="357.0" y="349.9" width="1.8" height="1.8" fill="#cfcfd6"/><rect x="347.0" y="314.6" width="1.8" height="1.8" fill="#cfcfd6"/><path d="M338.0,309.1V314.5M337.0,309.1h2M337.0,314.5h2" stroke="#cfcfd6" stroke-width="0.55"/><rect x="337.1" y="310.9" width="1.8" height="1.8" fill="#cfcfd6"/><path d="M328.0,309.2V313.9M327.0,309.2h2M327.0,313.9h2" stroke="#cfcfd6" stroke-width="0.55"/><rect x="327.1" y="310.6" width="1.8" height="1.8" fill="#cfcfd6"/><rect x="416.7" y="359.7" width="1.8" height="1.8" fill="#495066"/><rect x="406.7" y="358.6" width="1.8" height="1.8" fill="#495066"/><rect x="396.8" y="359.7" width="1.8" height="1.8" fill="#495066"/><rect x="386.8" y="359.1" width="1.8" height="1.8" fill="#495066"/><rect x="376.9" y="359.7" width="1.8" height="1.8" fill="#495066"/><rect x="366.9" y="359.7" width="1.8" height="1.8" fill="#495066"/><rect x="357.0" y="354.8" width="1.8" height="1.8" fill="#495066"/><rect x="347.0" y="321.2" width="1.8" height="1.8" fill="#495066"/><rect x="337.1" y="309.3" width="1.8" height="1.8" fill="#495066"/><rect x="327.1" y="310.5" width="1.8" height="1.8" fill="#495066"/><rect x="416.7" y="359.6" width="1.8" height="1.8" fill="#bd6a1a"/><rect x="406.7" y="359.0" width="1.8" height="1.8" fill="#bd6a1a"/><rect x="396.8" y="359.7" width="1.8" height="1.8" fill="#bd6a1a"/><rect x="386.8" y="359.0" width="1.8" height="1.8" fill="#bd6a1a"/><rect x="376.9" y="343.0" width="1.8" height="1.8" fill="#bd6a1a"/><path d="M367.8,311.3V318.5M366.8,311.3h2M366.8,318.5h2" stroke="#bd6a1a" stroke-width="0.55"/><rect x="366.9" y="314.0" width="1.8" height="1.8" fill="#bd6a1a"/><path d="M357.9,308.7V314.5M356.9,308.7h2M356.9,314.5h2" stroke="#bd6a1a" stroke-width="0.55"/><rect x="357.0" y="310.7" width="1.8" height="1.8" fill="#bd6a1a"/><rect x="347.0" y="309.8" width="1.8" height="1.8" fill="#bd6a1a"/><path d="M338.0,304.1V316.6M337.0,304.1h2M337.0,316.6h2" stroke="#bd6a1a" stroke-width="0.55"/><rect x="337.1" y="309.5" width="1.8" height="1.8" fill="#bd6a1a"/><path d="M328.0,306.3V313.8M327.0,306.3h2M327.0,313.8h2" stroke="#bd6a1a" stroke-width="0.55"/><rect x="327.1" y="309.1" width="1.8" height="1.8" fill="#bd6a1a"/><rect x="416.7" y="359.7" width="1.8" height="1.8" fill="#66b032"/><rect x="406.7" y="359.2" width="1.8" height="1.8" fill="#66b032"/><rect x="396.8" y="359.4" width="1.8" height="1.8" fill="#66b032"/><rect x="386.8" y="359.4" width="1.8" height="1.8" fill="#66b032"/><rect x="376.9" y="359.1" width="1.8" height="1.8" fill="#66b032"/><rect x="366.9" y="359.0" width="1.8" height="1.8" fill="#66b032"/><rect x="357.0" y="350.7" width="1.8" height="1.8" fill="#66b032"/><rect x="347.0" y="319.6" width="1.8" height="1.8" fill="#66b032"/><path d="M338.0,310.0V315.1M337.0,310.0h2M337.0,315.1h2" stroke="#66b032" stroke-width="0.55"/><rect x="337.1" y="311.7" width="1.8" height="1.8" fill="#66b032"/><path d="M328.0,303.6V317.4M327.0,303.6h2M327.0,317.4h2" stroke="#66b032" stroke-width="0.55"/><rect x="327.1" y="309.6" width="1.8" height="1.8" fill="#66b032"/><rect x="416.7" y="358.2" width="1.8" height="1.8" fill="#2a6446"/><rect x="406.7" y="359.7" width="1.8" height="1.8" fill="#2a6446"/><rect x="396.8" y="358.1" width="1.8" height="1.8" fill="#2a6446"/><rect x="386.8" y="359.2" width="1.8" height="1.8" fill="#2a6446"/><rect x="376.9" y="358.7" width="1.8" height="1.8" fill="#2a6446"/><rect x="366.9" y="357.2" width="1.8" height="1.8" fill="#2a6446"/><rect x="357.0" y="329.4" width="1.8" height="1.8" fill="#2a6446"/><rect x="347.0" y="311.9" width="1.8" height="1.8" fill="#2a6446"/><path d="M338.0,308.6V313.1M337.0,308.6h2M337.0,313.1h2" stroke="#2a6446" stroke-width="0.55"/><rect x="337.1" y="310.0" width="1.8" height="1.8" fill="#2a6446"/><path d="M328.0,306.4V316.7M327.0,306.4h2M327.0,316.7h2" stroke="#2a6446" stroke-width="0.55"/><rect x="327.1" y="310.6" width="1.8" height="1.8" fill="#2a6446"/><rect x="416.7" y="359.7" width="1.8" height="1.8" fill="#22427e"/><rect x="406.7" y="359.7" width="1.8" height="1.8" fill="#22427e"/><rect x="396.8" y="359.1" width="1.8" height="1.8" fill="#22427e"/><rect x="386.8" y="359.2" width="1.8" height="1.8" fill="#22427e"/><rect x="376.9" y="359.1" width="1.8" height="1.8" fill="#22427e"/><rect x="366.9" y="353.5" width="1.8" height="1.8" fill="#22427e"/><rect x="357.0" y="321.6" width="1.8" height="1.8" fill="#22427e"/><rect x="347.0" y="311.2" width="1.8" height="1.8" fill="#22427e"/><path d="M338.0,306.6V316.0M337.0,306.6h2M337.0,316.0h2" stroke="#22427e" stroke-width="0.55"/><rect x="337.1" y="310.4" width="1.8" height="1.8" fill="#22427e"/><path d="M328.0,306.8V316.0M327.0,306.8h2M327.0,316.0h2" stroke="#22427e" stroke-width="0.55"/><rect x="327.1" y="310.5" width="1.8" height="1.8" fill="#22427e"/><rect x="416.7" y="359.7" width="1.8" height="1.8" fill="#a3132e"/><rect x="406.7" y="359.7" width="1.8" height="1.8" fill="#a3132e"/><rect x="396.8" y="359.7" width="1.8" height="1.8" fill="#a3132e"/><rect x="386.8" y="359.7" width="1.8" height="1.8" fill="#a3132e"/><rect x="376.9" y="357.5" width="1.8" height="1.8" fill="#a3132e"/><rect x="366.9" y="359.2" width="1.8" height="1.8" fill="#a3132e"/><rect x="357.0" y="346.0" width="1.8" height="1.8" fill="#a3132e"/><path d="M347.9,313.2V316.8M346.9,313.2h2M346.9,316.8h2" stroke="#a3132e" stroke-width="0.55"/><rect x="347.0" y="314.1" width="1.8" height="1.8" fill="#a3132e"/><path d="M338.0,304.2V317.8M337.0,304.2h2M337.0,317.8h2" stroke="#a3132e" stroke-width="0.55"/><rect x="337.1" y="310.1" width="1.8" height="1.8" fill="#a3132e"/><path d="M328.0,307.3V314.3M327.0,307.3h2M327.0,314.3h2" stroke="#a3132e" stroke-width="0.55"/><rect x="327.1" y="309.9" width="1.8" height="1.8" fill="#a3132e"/><rect x="416.7" y="359.7" width="1.8" height="1.8" fill="#d5137f"/><rect x="406.7" y="359.7" width="1.8" height="1.8" fill="#d5137f"/><rect x="396.8" y="359.7" width="1.8" height="1.8" fill="#d5137f"/><rect x="386.8" y="358.6" width="1.8" height="1.8" fill="#d5137f"/><rect x="376.9" y="359.7" width="1.8" height="1.8" fill="#d5137f"/><rect x="366.9" y="358.2" width="1.8" height="1.8" fill="#d5137f"/><rect x="357.0" y="329.1" width="1.8" height="1.8" fill="#d5137f"/><rect x="347.0" y="311.1" width="1.8" height="1.8" fill="#d5137f"/><path d="M338.0,308.8V313.7M337.0,308.8h2M337.0,313.7h2" stroke="#d5137f" stroke-width="0.55"/><rect x="337.1" y="310.3" width="1.8" height="1.8" fill="#d5137f"/><path d="M328.0,304.0V318.0M327.0,304.0h2M327.0,318.0h2" stroke="#d5137f" stroke-width="0.55"/><rect x="327.1" y="310.1" width="1.8" height="1.8" fill="#d5137f"/><rect x="416.7" y="359.3" width="1.8" height="1.8" fill="#948ad2"/><rect x="406.7" y="359.5" width="1.8" height="1.8" fill="#948ad2"/><rect x="396.8" y="359.7" width="1.8" height="1.8" fill="#948ad2"/><rect x="386.8" y="359.7" width="1.8" height="1.8" fill="#948ad2"/><rect x="376.9" y="359.7" width="1.8" height="1.8" fill="#948ad2"/><rect x="366.9" y="358.6" width="1.8" height="1.8" fill="#948ad2"/><rect x="357.0" y="343.0" width="1.8" height="1.8" fill="#948ad2"/><rect x="347.0" y="313.3" width="1.8" height="1.8" fill="#948ad2"/><path d="M338.0,309.5V315.6M337.0,309.5h2M337.0,315.6h2" stroke="#948ad2" stroke-width="0.55"/><rect x="337.1" y="311.7" width="1.8" height="1.8" fill="#948ad2"/><path d="M328.0,304.2V314.9M327.0,304.2h2M327.0,314.9h2" stroke="#948ad2" stroke-width="0.55"/><rect x="327.1" y="308.7" width="1.8" height="1.8" fill="#948ad2"/><rect x="416.7" y="359.7" width="1.8" height="1.8" fill="#63aeea"/><rect x="406.7" y="359.5" width="1.8" height="1.8" fill="#63aeea"/><rect x="396.8" y="359.7" width="1.8" height="1.8" fill="#63aeea"/><rect x="386.8" y="358.7" width="1.8" height="1.8" fill="#63aeea"/><rect x="376.9" y="358.9" width="1.8" height="1.8" fill="#63aeea"/><rect x="366.9" y="358.6" width="1.8" height="1.8" fill="#63aeea"/><rect x="357.0" y="340.3" width="1.8" height="1.8" fill="#63aeea"/><rect x="347.0" y="311.7" width="1.8" height="1.8" fill="#63aeea"/><path d="M338.0,307.4V314.6M337.0,307.4h2M337.0,314.6h2" stroke="#63aeea" stroke-width="0.55"/><rect x="337.1" y="310.1" width="1.8" height="1.8" fill="#63aeea"/><path d="M328.0,304.4V318.5M327.0,304.4h2M327.0,318.5h2" stroke="#63aeea" stroke-width="0.55"/><rect x="327.1" y="310.5" width="1.8" height="1.8" fill="#63aeea"/><path d="M313.3,288.80 L313.3,360.6 L418.35,360.6" fill="none" stroke="#111" stroke-width="1.3"/><line x1="310.50" y1="360.60" x2="313.3" y2="360.60" stroke="#111" stroke-width="0.8"/><text x="307.50" y="363.35" font-size="7.75" text-anchor="end" font-weight="normal" fill="#231f20" >0</text><line x1="310.50" y1="350.69" x2="313.3" y2="350.69" stroke="#111" stroke-width="0.8"/><text x="307.50" y="353.44" font-size="7.75" text-anchor="end" font-weight="normal" fill="#231f20" >20</text><line x1="310.50" y1="340.77" x2="313.3" y2="340.77" stroke="#111" stroke-width="0.8"/><text x="307.50" y="343.52" font-size="7.75" text-anchor="end" font-weight="normal" fill="#231f20" >40</text><line x1="310.50" y1="330.86" x2="313.3" y2="330.86" stroke="#111" stroke-width="0.8"/><text x="307.50" y="333.61" font-size="7.75" text-anchor="end" font-weight="normal" fill="#231f20" >60</text><line x1="310.50" y1="320.94" x2="313.3" y2="320.94" stroke="#111" stroke-width="0.8"/><text x="307.50" y="323.69" font-size="7.75" text-anchor="end" font-weight="normal" fill="#231f20" >80</text><line x1="310.50" y1="311.03" x2="313.3" y2="311.03" stroke="#111" stroke-width="0.8"/><text x="307.50" y="313.78" font-size="7.75" text-anchor="end" font-weight="normal" fill="#231f20" >100</text><line x1="310.50" y1="301.12" x2="313.3" y2="301.12" stroke="#111" stroke-width="0.8"/><text x="307.50" y="303.87" font-size="7.75" text-anchor="end" font-weight="normal" fill="#231f20" >120</text><line x1="310.50" y1="291.20" x2="313.3" y2="291.20" stroke="#111" stroke-width="0.8"/><text x="307.50" y="293.95" font-size="7.75" text-anchor="end" font-weight="normal" fill="#231f20" >140</text><line x1="313.30" y1="360.6" x2="313.30" y2="363.40" stroke="#111" stroke-width="1.0"/><text x="312.95" y="373.60" font-size="7.6" text-anchor="middle" font-weight="normal" fill="#231f20" >-4</text><line x1="334.15" y1="360.6" x2="334.15" y2="363.40" stroke="#111" stroke-width="1.0"/><text x="334.70" y="373.60" font-size="7.6" text-anchor="middle" font-weight="normal" fill="#231f20" >-3</text><line x1="355.00" y1="360.6" x2="355.00" y2="363.40" stroke="#111" stroke-width="1.0"/><text x="355.80" y="373.60" font-size="7.6" text-anchor="middle" font-weight="normal" fill="#231f20" >-2</text><line x1="375.85" y1="360.6" x2="375.85" y2="363.40" stroke="#111" stroke-width="1.0"/><text x="377.65" y="373.60" font-size="7.6" text-anchor="middle" font-weight="normal" fill="#231f20" >-1</text><line x1="396.70" y1="360.6" x2="396.70" y2="363.40" stroke="#111" stroke-width="1.0"/><text x="398.15" y="373.60" font-size="7.6" text-anchor="middle" font-weight="normal" fill="#231f20" >0</text><line x1="417.55" y1="360.6" x2="417.55" y2="363.40" stroke="#111" stroke-width="1.0"/><text x="417.65" y="373.60" font-size="7.6" text-anchor="middle" font-weight="normal" fill="#231f20" >1</text><text x="197.40" y="407.70" font-size="7.86" text-anchor="middle" font-weight="normal" fill="#231f20" >Ruxolitinib</text><text class="ax" transform="translate(108.30,446.40) rotate(-90) scale(0.693,1)" font-size="9.7" text-anchor="middle" fill="#231f20">Cell viability</text><text class="ax" transform="translate(118.50,446.40) rotate(-90) scale(0.79,1)" font-size="8.7" text-anchor="middle" fill="#231f20">(% relative to control)</text><text class="ax" transform="translate(160.30,507.90) scale(0.80,1)" font-size="8.6" fill="#231f20">Log<tspan font-size="5.0" dy="2.6">10</tspan><tspan dy="-2.6"> concentration (µM)</tspan></text><path d="M160.2,435.6 L161.5,435.6 L162.7,435.7 L164.0,435.8 L165.2,435.9 L166.5,436.0 L167.7,436.1 L169.0,436.2 L170.2,436.3 L171.5,436.4 L172.7,436.5 L174.0,436.6 L175.2,436.7 L176.5,436.8 L177.7,437.0 L179.0,437.1 L180.2,437.3 L181.5,437.4 L182.7,437.6 L184.0,437.7 L185.2,437.9 L186.5,438.1 L187.7,438.2 L189.0,438.4 L190.2,438.6 L191.5,438.8 L192.7,439.1 L194.0,439.3 L195.2,439.5 L196.5,439.7 L197.7,440.0 L199.0,440.3 L200.2,440.5 L201.5,440.8 L202.7,441.1 L204.0,441.4 L205.2,441.7 L206.5,442.0 L207.7,442.3 L209.0,442.7 L210.2,443.0 L211.5,443.4 L212.7,443.7 L214.0,444.1 L215.2,444.5 L216.5,444.9 L217.7,445.3 L219.0,445.7 L220.3,446.2 L221.5,446.6 L222.8,447.1 L224.0,447.5 L225.3,448.0 L226.5,448.5 L227.8,449.0 L229.0,449.5 L230.3,450.0 L231.5,450.5 L232.8,451.0 L234.0,451.5 L235.3,452.1 L236.5,452.6 L237.8,453.1 L239.0,453.7 L240.3,454.3 L241.5,454.8 L242.8,455.4 L244.0,455.9 L245.3,456.5 L246.5,457.1 L247.8,457.6 L249.0,458.2" fill="none" stroke="#c9c9cc" stroke-width="1.45" stroke-linejoin="round"/><path d="M160.2,431.6 L161.5,431.6 L162.7,431.6 L164.0,431.6 L165.2,431.6 L166.5,431.6 L167.7,431.6 L169.0,431.6 L170.2,431.6 L171.5,431.6 L172.7,431.6 L174.0,431.7 L175.2,431.7 L176.5,431.7 L177.7,431.7 L179.0,431.7 L180.2,431.7 L181.5,431.7 L182.7,431.8 L184.0,431.8 L185.2,431.8 L186.5,431.8 L187.7,431.9 L189.0,431.9 L190.2,432.0 L191.5,432.0 L192.7,432.0 L194.0,432.1 L195.2,432.2 L196.5,432.2 L197.7,432.3 L199.0,432.4 L200.2,432.4 L201.5,432.5 L202.7,432.6 L204.0,432.7 L205.2,432.9 L206.5,433.0 L207.7,433.1 L209.0,433.3 L210.2,433.5 L211.5,433.6 L212.7,433.8 L214.0,434.1 L215.2,434.3 L216.5,434.6 L217.7,434.9 L219.0,435.2 L220.3,435.5 L221.5,435.9 L222.8,436.3 L224.0,436.7 L225.3,437.2 L226.5,437.7 L227.8,438.2 L229.0,438.8 L230.3,439.4 L231.5,440.1 L232.8,440.8 L234.0,441.6 L235.3,442.4 L236.5,443.2 L237.8,444.1 L239.0,445.0 L240.3,446.0 L241.5,447.0 L242.8,448.1 L244.0,449.1 L245.3,450.2 L246.5,451.4 L247.8,452.5 L249.0,453.7" fill="none" stroke="#3c4258" stroke-width="1.45" stroke-linejoin="round"/><path d="M160.2,431.5 L161.5,431.5 L162.7,431.5 L164.0,431.5 L165.2,431.5 L166.5,431.5 L167.7,431.5 L169.0,431.5 L170.2,431.5 L171.5,431.5 L172.7,431.5 L174.0,431.5 L175.2,431.5 L176.5,431.5 L177.7,431.5 L179.0,431.5 L180.2,431.5 L181.5,431.5 L182.7,431.5 L184.0,431.5 L185.2,431.5 L186.5,431.5 L187.7,431.5 L189.0,431.5 L190.2,431.5 L191.5,431.6 L192.7,431.6 L194.0,431.6 L195.2,431.6 L196.5,431.6 L197.7,431.6 L199.0,431.6 L200.2,431.6 L201.5,431.6 L202.7,431.6 L204.0,431.6 L205.2,431.6 L206.5,431.6 L207.7,431.7 L209.0,431.7 L210.2,431.7 L211.5,431.7 L212.7,431.7 L214.0,431.8 L215.2,431.8 L216.5,431.8 L217.7,431.9 L219.0,431.9 L220.3,432.0 L221.5,432.1 L222.8,432.2 L224.0,432.3 L225.3,432.4 L226.5,432.5 L227.8,432.6 L229.0,432.8 L230.3,433.0 L231.5,433.2 L232.8,433.4 L234.0,433.6 L235.3,433.9 L236.5,434.3 L237.8,434.7 L239.0,435.1 L240.3,435.6 L241.5,436.1 L242.8,436.7 L244.0,437.4 L245.3,438.2 L246.5,439.0 L247.8,439.9 L249.0,440.9" fill="none" stroke="#b8651c" stroke-width="1.45" stroke-linejoin="round"/><path d="M160.2,431.7 L161.5,431.8 L162.7,431.8 L164.0,431.9 L165.2,431.9 L166.5,432.0 L167.7,432.1 L169.0,432.2 L170.2,432.4 L171.5,432.5 L172.7,432.7 L174.0,432.9 L175.2,433.2 L176.5,433.5 L177.7,433.9 L179.0,434.3 L180.2,434.8 L181.5,435.5 L182.7,436.2 L184.0,437.0 L185.2,437.9 L186.5,439.0 L187.7,440.2 L189.0,441.5 L190.2,443.0 L191.5,444.7 L192.7,446.5 L194.0,448.4 L195.2,450.5 L196.5,452.6 L197.7,454.8 L199.0,457.1 L200.2,459.3 L201.5,461.4 L202.7,463.5 L204.0,465.5 L205.2,467.4 L206.5,469.1 L207.7,470.6 L209.0,472.0 L210.2,473.3 L211.5,474.4 L212.7,475.4 L214.0,476.2 L215.2,477.0 L216.5,477.6 L217.7,478.1 L219.0,478.6 L220.3,479.0 L221.5,479.3 L222.8,479.6 L224.0,479.8 L225.3,480.0 L226.5,480.2 L227.8,480.4 L229.0,480.5 L230.3,480.6 L231.5,480.7 L232.8,480.7 L234.0,480.8 L235.3,480.8 L236.5,480.9 L237.8,480.9 L239.0,481.0 L240.3,481.0 L241.5,481.0 L242.8,481.0 L244.0,481.0 L245.3,481.0 L246.5,481.0 L247.8,481.1 L249.0,481.1" fill="none" stroke="#5fb236" stroke-width="1.45" stroke-linejoin="round"/><path d="M160.2,432.7 L161.5,432.8 L162.7,432.8 L164.0,432.9 L165.2,433.0 L166.5,433.1 L167.7,433.2 L169.0,433.4 L170.2,433.5 L171.5,433.8 L172.7,434.0 L174.0,434.3 L175.2,434.7 L176.5,435.1 L177.7,435.7 L179.0,436.3 L180.2,437.0 L181.5,437.8 L182.7,438.8 L184.0,440.0 L185.2,441.3 L186.5,442.7 L187.7,444.4 L189.0,446.2 L190.2,448.2 L191.5,450.3 L192.7,452.5 L194.0,454.9 L195.2,457.2 L196.5,459.5 L197.7,461.8 L199.0,464.0 L200.2,466.1 L201.5,468.0 L202.7,469.8 L204.0,471.4 L205.2,472.8 L206.5,474.0 L207.7,475.1 L209.0,476.1 L210.2,476.9 L211.5,477.6 L212.7,478.2 L214.0,478.6 L215.2,479.1 L216.5,479.4 L217.7,479.7 L219.0,479.9 L220.3,480.1 L221.5,480.3 L222.8,480.4 L224.0,480.6 L225.3,480.7 L226.5,480.7 L227.8,480.8 L229.0,480.8 L230.3,480.9 L231.5,480.9 L232.8,481.0 L234.0,481.0 L235.3,481.0 L236.5,481.0 L237.8,481.0 L239.0,481.0 L240.3,481.1 L241.5,481.1 L242.8,481.1 L244.0,481.1 L245.3,481.1 L246.5,481.1 L247.8,481.1 L249.0,481.1" fill="none" stroke="#1f5c3c" stroke-width="1.45" stroke-linejoin="round"/><path d="M160.2,431.8 L161.5,431.9 L162.7,431.9 L164.0,431.9 L165.2,432.0 L166.5,432.0 L167.7,432.1 L169.0,432.1 L170.2,432.2 L171.5,432.2 L172.7,432.3 L174.0,432.4 L175.2,432.5 L176.5,432.6 L177.7,432.7 L179.0,432.8 L180.2,432.9 L181.5,433.0 L182.7,433.2 L184.0,433.3 L185.2,433.5 L186.5,433.7 L187.7,433.9 L189.0,434.2 L190.2,434.4 L191.5,434.7 L192.7,435.0 L194.0,435.3 L195.2,435.6 L196.5,436.0 L197.7,436.4 L199.0,436.9 L200.2,437.4 L201.5,437.9 L202.7,438.4 L204.0,439.0 L205.2,439.7 L206.5,440.3 L207.7,441.1 L209.0,441.8 L210.2,442.6 L211.5,443.5 L212.7,444.4 L214.0,445.3 L215.2,446.3 L216.5,447.4 L217.7,448.4 L219.0,449.5 L220.3,450.6 L221.5,451.8 L222.8,452.9 L224.0,454.1 L225.3,455.3 L226.5,456.5 L227.8,457.7 L229.0,458.9 L230.3,460.1 L231.5,461.2 L232.8,462.4 L234.0,463.5 L235.3,464.6 L236.5,465.6 L237.8,466.6 L239.0,467.6 L240.3,468.5 L241.5,469.4 L242.8,470.3 L244.0,471.1 L245.3,471.8 L246.5,472.5 L247.8,473.2 L249.0,473.8" fill="none" stroke="#1f3b78" stroke-width="1.45" stroke-linejoin="round"/><path d="M160.2,431.5 L161.5,431.5 L162.7,431.5 L164.0,431.5 L165.2,431.5 L166.5,431.5 L167.7,431.5 L169.0,431.5 L170.2,431.5 L171.5,431.5 L172.7,431.5 L174.0,431.5 L175.2,431.5 L176.5,431.5 L177.7,431.5 L179.0,431.5 L180.2,431.5 L181.5,431.5 L182.7,431.5 L184.0,431.5 L185.2,431.5 L186.5,431.6 L187.7,431.6 L189.0,431.6 L190.2,431.6 L191.5,431.6 L192.7,431.7 L194.0,431.7 L195.2,431.8 L196.5,431.9 L197.7,432.0 L199.0,432.1 L200.2,432.4 L201.5,432.7 L202.7,433.1 L204.0,433.6 L205.2,434.4 L206.5,435.3 L207.7,436.6 L209.0,438.2 L210.2,440.3 L211.5,442.8 L212.7,445.9 L214.0,449.3 L215.2,453.1 L216.5,457.0 L217.7,460.9 L219.0,464.5 L220.3,467.8 L221.5,470.7 L222.8,473.1 L224.0,475.0 L225.3,476.5 L226.5,477.7 L227.8,478.5 L229.0,479.2 L230.3,479.7 L231.5,480.1 L232.8,480.4 L234.0,480.6 L235.3,480.7 L236.5,480.8 L237.8,480.9 L239.0,480.9 L240.3,481.0 L241.5,481.0 L242.8,481.0 L244.0,481.1 L245.3,481.1 L246.5,481.1 L247.8,481.1 L249.0,481.1" fill="none" stroke="#dc3c16" stroke-width="1.45" stroke-linejoin="round"/><path d="M160.2,431.7 L161.5,431.7 L162.7,431.8 L164.0,431.8 L165.2,431.9 L166.5,431.9 L167.7,431.9 L169.0,432.0 L170.2,432.1 L171.5,432.1 L172.7,432.2 L174.0,432.3 L175.2,432.4 L176.5,432.6 L177.7,432.7 L179.0,432.9 L180.2,433.0 L181.5,433.3 L182.7,433.5 L184.0,433.7 L185.2,434.0 L186.5,434.4 L187.7,434.7 L189.0,435.2 L190.2,435.6 L191.5,436.2 L192.7,436.7 L194.0,437.4 L195.2,438.1 L196.5,438.9 L197.7,439.7 L199.0,440.7 L200.2,441.7 L201.5,442.8 L202.7,444.0 L204.0,445.2 L205.2,446.6 L206.5,448.0 L207.7,449.5 L209.0,451.0 L210.2,452.5 L211.5,454.2 L212.7,455.8 L214.0,457.4 L215.2,459.0 L216.5,460.6 L217.7,462.2 L219.0,463.7 L220.3,465.1 L221.5,466.5 L222.8,467.8 L224.0,469.1 L225.3,470.2 L226.5,471.3 L227.8,472.3 L229.0,473.2 L230.3,474.0 L231.5,474.8 L232.8,475.5 L234.0,476.1 L235.3,476.7 L236.5,477.2 L237.8,477.6 L239.0,478.0 L240.3,478.4 L241.5,478.7 L242.8,479.0 L244.0,479.2 L245.3,479.4 L246.5,479.6 L247.8,479.8 L249.0,480.0" fill="none" stroke="#d5137f" stroke-width="1.45" stroke-linejoin="round"/><path d="M160.2,431.5 L161.5,431.5 L162.7,431.5 L164.0,431.5 L165.2,431.5 L166.5,431.5 L167.7,431.5 L169.0,431.5 L170.2,431.5 L171.5,431.5 L172.7,431.5 L174.0,431.5 L175.2,431.5 L176.5,431.5 L177.7,431.5 L179.0,431.5 L180.2,431.5 L181.5,431.5 L182.7,431.5 L184.0,431.5 L185.2,431.5 L186.5,431.5 L187.7,431.5 L189.0,431.5 L190.2,431.5 L191.5,431.6 L192.7,431.6 L194.0,431.6 L195.2,431.6 L196.5,431.6 L197.7,431.7 L199.0,431.7 L200.2,431.8 L201.5,431.9 L202.7,432.0 L204.0,432.2 L205.2,432.5 L206.5,432.9 L207.7,433.4 L209.0,434.0 L210.2,435.0 L211.5,436.2 L212.7,437.8 L214.0,439.8 L215.2,442.4 L216.5,445.5 L217.7,449.0 L219.0,452.9 L220.3,457.0 L221.5,461.0 L222.8,464.9 L224.0,468.3 L225.3,471.1 L226.5,473.5 L227.8,475.4 L229.0,476.9 L230.3,478.0 L231.5,478.8 L232.8,479.5 L234.0,479.9 L235.3,480.2 L236.5,480.5 L237.8,480.7 L239.0,480.8 L240.3,480.9 L241.5,480.9 L242.8,481.0 L244.0,481.0 L245.3,481.0 L246.5,481.1 L247.8,481.1 L249.0,481.1" fill="none" stroke="#9a8cd8" stroke-width="1.45" stroke-linejoin="round"/><path d="M160.2,431.5 L161.5,431.5 L162.7,431.5 L164.0,431.5 L165.2,431.5 L166.5,431.5 L167.7,431.5 L169.0,431.5 L170.2,431.5 L171.5,431.5 L172.7,431.5 L174.0,431.5 L175.2,431.5 L176.5,431.5 L177.7,431.5 L179.0,431.5 L180.2,431.5 L181.5,431.5 L182.7,431.5 L184.0,431.5 L185.2,431.5 L186.5,431.5 L187.7,431.5 L189.0,431.5 L190.2,431.6 L191.5,431.6 L192.7,431.6 L194.0,431.6 L195.2,431.6 L196.5,431.7 L197.7,431.7 L199.0,431.8 L200.2,431.9 L201.5,432.0 L202.7,432.2 L204.0,432.4 L205.2,432.8 L206.5,433.3 L207.7,433.9 L209.0,434.8 L210.2,436.0 L211.5,437.5 L212.7,439.5 L214.0,441.9 L215.2,444.9 L216.5,448.4 L217.7,452.2 L219.0,456.3 L220.3,460.4 L221.5,464.2 L222.8,467.7 L224.0,470.7 L225.3,473.2 L226.5,475.1 L227.8,476.7 L229.0,477.8 L230.3,478.7 L231.5,479.4 L232.8,479.8 L234.0,480.2 L235.3,480.4 L236.5,480.6 L237.8,480.8 L239.0,480.9 L240.3,480.9 L241.5,481.0 L242.8,481.0 L244.0,481.0 L245.3,481.1 L246.5,481.1 L247.8,481.1 L249.0,481.1" fill="none" stroke="#62b2f0" stroke-width="1.8" stroke-linejoin="round"/><rect x="248.8" y="456.6" width="1.8" height="1.8" fill="#cfcfd6"/><path d="M239.7,451.9V454.3M238.7,451.9h2M238.7,454.3h2" stroke="#cfcfd6" stroke-width="0.55"/><rect x="238.8" y="452.2" width="1.8" height="1.8" fill="#cfcfd6"/><rect x="228.9" y="449.8" width="1.8" height="1.8" fill="#cfcfd6"/><rect x="218.9" y="446.2" width="1.8" height="1.8" fill="#cfcfd6"/><rect x="209.0" y="440.6" width="1.8" height="1.8" fill="#cfcfd6"/><rect x="199.0" y="440.6" width="1.8" height="1.8" fill="#cfcfd6"/><path d="M190.0,435.8V438.6M189.0,435.8h2M189.0,438.6h2" stroke="#cfcfd6" stroke-width="0.55"/><rect x="189.1" y="436.3" width="1.8" height="1.8" fill="#cfcfd6"/><rect x="179.1" y="436.9" width="1.8" height="1.8" fill="#cfcfd6"/><path d="M170.1,431.0V438.5M169.1,431.0h2M169.1,438.5h2" stroke="#cfcfd6" stroke-width="0.55"/><rect x="169.2" y="433.8" width="1.8" height="1.8" fill="#cfcfd6"/><path d="M160.1,432.6V440.5M159.1,432.6h2M159.1,440.5h2" stroke="#cfcfd6" stroke-width="0.55"/><rect x="159.2" y="435.7" width="1.8" height="1.8" fill="#cfcfd6"/><rect x="248.8" y="453.2" width="1.8" height="1.8" fill="#495066"/><path d="M239.7,443.3V445.8M238.7,443.3h2M238.7,445.8h2" stroke="#495066" stroke-width="0.55"/><rect x="238.8" y="443.6" width="1.8" height="1.8" fill="#495066"/><path d="M229.8,439.1V441.7M228.8,439.1h2M228.8,441.7h2" stroke="#495066" stroke-width="0.55"/><rect x="228.9" y="439.5" width="1.8" height="1.8" fill="#495066"/><rect x="218.9" y="434.5" width="1.8" height="1.8" fill="#495066"/><path d="M209.9,432.6V436.0M208.9,432.6h2M208.9,436.0h2" stroke="#495066" stroke-width="0.55"/><rect x="209.0" y="433.4" width="1.8" height="1.8" fill="#495066"/><rect x="199.0" y="433.5" width="1.8" height="1.8" fill="#495066"/><rect x="189.1" y="432.1" width="1.8" height="1.8" fill="#495066"/><rect x="179.1" y="430.2" width="1.8" height="1.8" fill="#495066"/><path d="M170.1,427.6V434.8M169.1,427.6h2M169.1,434.8h2" stroke="#495066" stroke-width="0.55"/><rect x="169.2" y="430.3" width="1.8" height="1.8" fill="#495066"/><path d="M160.1,429.5V436.4M159.1,429.5h2M159.1,436.4h2" stroke="#495066" stroke-width="0.55"/><rect x="159.2" y="432.1" width="1.8" height="1.8" fill="#495066"/><path d="M249.7,439.2V446.3M248.7,439.2h2M248.7,446.3h2" stroke="#bd6a1a" stroke-width="0.55"/><rect x="248.8" y="441.8" width="1.8" height="1.8" fill="#bd6a1a"/><path d="M239.7,431.6V437.5M238.7,431.6h2M238.7,437.5h2" stroke="#bd6a1a" stroke-width="0.55"/><rect x="238.8" y="433.7" width="1.8" height="1.8" fill="#bd6a1a"/><path d="M229.8,434.5V437.0M228.8,434.5h2M228.8,437.0h2" stroke="#bd6a1a" stroke-width="0.55"/><rect x="228.9" y="434.8" width="1.8" height="1.8" fill="#bd6a1a"/><path d="M219.8,432.3V434.9M218.8,432.3h2M218.8,434.9h2" stroke="#bd6a1a" stroke-width="0.55"/><rect x="218.9" y="432.7" width="1.8" height="1.8" fill="#bd6a1a"/><path d="M209.9,427.7V433.2M208.9,427.7h2M208.9,433.2h2" stroke="#bd6a1a" stroke-width="0.55"/><rect x="209.0" y="429.6" width="1.8" height="1.8" fill="#bd6a1a"/><path d="M199.9,430.6V435.6M198.9,430.6h2M198.9,435.6h2" stroke="#bd6a1a" stroke-width="0.55"/><rect x="199.0" y="432.2" width="1.8" height="1.8" fill="#bd6a1a"/><path d="M190.0,430.6V436.7M189.0,430.6h2M189.0,436.7h2" stroke="#bd6a1a" stroke-width="0.55"/><rect x="189.1" y="432.8" width="1.8" height="1.8" fill="#bd6a1a"/><path d="M180.0,430.4V434.8M179.0,430.4h2M179.0,434.8h2" stroke="#bd6a1a" stroke-width="0.55"/><rect x="179.1" y="431.7" width="1.8" height="1.8" fill="#bd6a1a"/><path d="M170.1,428.1V432.1M169.1,428.1h2M169.1,432.1h2" stroke="#bd6a1a" stroke-width="0.55"/><rect x="169.2" y="429.2" width="1.8" height="1.8" fill="#bd6a1a"/><path d="M160.1,425.5V432.2M159.1,425.5h2M159.1,432.2h2" stroke="#bd6a1a" stroke-width="0.55"/><rect x="159.2" y="428.0" width="1.8" height="1.8" fill="#bd6a1a"/><rect x="248.8" y="478.1" width="1.8" height="1.8" fill="#66b032"/><rect x="238.8" y="479.2" width="1.8" height="1.8" fill="#66b032"/><rect x="228.9" y="479.7" width="1.8" height="1.8" fill="#66b032"/><rect x="218.9" y="477.2" width="1.8" height="1.8" fill="#66b032"/><rect x="209.0" y="473.7" width="1.8" height="1.8" fill="#66b032"/><rect x="199.0" y="457.6" width="1.8" height="1.8" fill="#66b032"/><rect x="189.1" y="440.9" width="1.8" height="1.8" fill="#66b032"/><rect x="179.1" y="433.8" width="1.8" height="1.8" fill="#66b032"/><rect x="169.2" y="432.0" width="1.8" height="1.8" fill="#66b032"/><path d="M160.1,427.9V434.1M159.1,427.9h2M159.1,434.1h2" stroke="#66b032" stroke-width="0.55"/><rect x="159.2" y="430.1" width="1.8" height="1.8" fill="#66b032"/><rect x="248.8" y="480.2" width="1.8" height="1.8" fill="#2a6446"/><rect x="238.8" y="480.1" width="1.8" height="1.8" fill="#2a6446"/><rect x="228.9" y="480.2" width="1.8" height="1.8" fill="#2a6446"/><rect x="218.9" y="478.8" width="1.8" height="1.8" fill="#2a6446"/><rect x="209.0" y="475.0" width="1.8" height="1.8" fill="#2a6446"/><rect x="199.0" y="466.9" width="1.8" height="1.8" fill="#2a6446"/><rect x="189.1" y="447.4" width="1.8" height="1.8" fill="#2a6446"/><rect x="179.1" y="435.4" width="1.8" height="1.8" fill="#2a6446"/><path d="M170.1,429.4V437.0M169.1,429.4h2M169.1,437.0h2" stroke="#2a6446" stroke-width="0.55"/><rect x="169.2" y="432.3" width="1.8" height="1.8" fill="#2a6446"/><path d="M160.1,426.6V433.7M159.1,426.6h2M159.1,433.7h2" stroke="#2a6446" stroke-width="0.55"/><rect x="159.2" y="429.2" width="1.8" height="1.8" fill="#2a6446"/><rect x="248.8" y="472.2" width="1.8" height="1.8" fill="#22427e"/><rect x="238.8" y="466.9" width="1.8" height="1.8" fill="#22427e"/><path d="M229.8,458.9V462.0M228.8,458.9h2M228.8,462.0h2" stroke="#22427e" stroke-width="0.55"/><rect x="228.9" y="459.5" width="1.8" height="1.8" fill="#22427e"/><path d="M219.8,448.9V453.2M218.8,448.9h2M218.8,453.2h2" stroke="#22427e" stroke-width="0.55"/><rect x="218.9" y="450.2" width="1.8" height="1.8" fill="#22427e"/><rect x="209.0" y="442.4" width="1.8" height="1.8" fill="#22427e"/><rect x="199.0" y="435.8" width="1.8" height="1.8" fill="#22427e"/><path d="M190.0,432.0V436.0M189.0,432.0h2M189.0,436.0h2" stroke="#22427e" stroke-width="0.55"/><rect x="189.1" y="433.1" width="1.8" height="1.8" fill="#22427e"/><rect x="179.1" y="431.7" width="1.8" height="1.8" fill="#22427e"/><path d="M170.1,427.8V434.4M169.1,427.8h2M169.1,434.4h2" stroke="#22427e" stroke-width="0.55"/><rect x="169.2" y="430.2" width="1.8" height="1.8" fill="#22427e"/><path d="M160.1,429.8V436.9M159.1,429.8h2M159.1,436.9h2" stroke="#22427e" stroke-width="0.55"/><rect x="159.2" y="432.5" width="1.8" height="1.8" fill="#22427e"/><rect x="248.8" y="478.0" width="1.8" height="1.8" fill="#a3132e"/><rect x="238.8" y="480.2" width="1.8" height="1.8" fill="#a3132e"/><rect x="228.9" y="477.5" width="1.8" height="1.8" fill="#a3132e"/><rect x="218.9" y="465.8" width="1.8" height="1.8" fill="#a3132e"/><rect x="209.0" y="437.2" width="1.8" height="1.8" fill="#a3132e"/><path d="M199.9,430.9V434.2M198.9,430.9h2M198.9,434.2h2" stroke="#a3132e" stroke-width="0.55"/><rect x="199.0" y="431.7" width="1.8" height="1.8" fill="#a3132e"/><rect x="189.1" y="429.5" width="1.8" height="1.8" fill="#a3132e"/><rect x="179.1" y="430.2" width="1.8" height="1.8" fill="#a3132e"/><path d="M170.1,426.4V436.5M169.1,426.4h2M169.1,436.5h2" stroke="#a3132e" stroke-width="0.55"/><rect x="169.2" y="430.5" width="1.8" height="1.8" fill="#a3132e"/><path d="M160.1,426.4V433.9M159.1,426.4h2M159.1,433.9h2" stroke="#a3132e" stroke-width="0.55"/><rect x="159.2" y="429.2" width="1.8" height="1.8" fill="#a3132e"/><rect x="248.8" y="480.2" width="1.8" height="1.8" fill="#d5137f"/><rect x="238.8" y="477.7" width="1.8" height="1.8" fill="#d5137f"/><rect x="228.9" y="471.5" width="1.8" height="1.8" fill="#d5137f"/><rect x="218.9" y="462.3" width="1.8" height="1.8" fill="#d5137f"/><rect x="209.0" y="449.6" width="1.8" height="1.8" fill="#d5137f"/><path d="M199.9,438.6V441.1M198.9,438.6h2M198.9,441.1h2" stroke="#d5137f" stroke-width="0.55"/><rect x="199.0" y="438.9" width="1.8" height="1.8" fill="#d5137f"/><rect x="189.1" y="435.1" width="1.8" height="1.8" fill="#d5137f"/><rect x="179.1" y="431.9" width="1.8" height="1.8" fill="#d5137f"/><path d="M170.1,426.8V434.4M169.1,426.8h2M169.1,434.4h2" stroke="#d5137f" stroke-width="0.55"/><rect x="169.2" y="429.7" width="1.8" height="1.8" fill="#d5137f"/><path d="M160.1,428.6V433.9M159.1,428.6h2M159.1,433.9h2" stroke="#d5137f" stroke-width="0.55"/><rect x="159.2" y="430.3" width="1.8" height="1.8" fill="#d5137f"/><rect x="248.8" y="480.2" width="1.8" height="1.8" fill="#948ad2"/><rect x="238.8" y="479.1" width="1.8" height="1.8" fill="#948ad2"/><rect x="228.9" y="477.5" width="1.8" height="1.8" fill="#948ad2"/><rect x="218.9" y="453.2" width="1.8" height="1.8" fill="#948ad2"/><path d="M209.9,434.1V436.7M208.9,434.1h2M208.9,436.7h2" stroke="#948ad2" stroke-width="0.55"/><rect x="209.0" y="434.5" width="1.8" height="1.8" fill="#948ad2"/><rect x="199.0" y="431.0" width="1.8" height="1.8" fill="#948ad2"/><rect x="189.1" y="428.9" width="1.8" height="1.8" fill="#948ad2"/><rect x="179.1" y="430.4" width="1.8" height="1.8" fill="#948ad2"/><path d="M170.1,431.5V438.9M169.1,431.5h2M169.1,438.9h2" stroke="#948ad2" stroke-width="0.55"/><rect x="169.2" y="434.3" width="1.8" height="1.8" fill="#948ad2"/><path d="M160.1,424.0V436.1M159.1,424.0h2M159.1,436.1h2" stroke="#948ad2" stroke-width="0.55"/><rect x="159.2" y="429.2" width="1.8" height="1.8" fill="#948ad2"/><rect x="248.8" y="478.9" width="1.8" height="1.8" fill="#63aeea"/><rect x="238.8" y="479.3" width="1.8" height="1.8" fill="#63aeea"/><rect x="228.9" y="478.7" width="1.8" height="1.8" fill="#63aeea"/><rect x="218.9" y="459.6" width="1.8" height="1.8" fill="#63aeea"/><rect x="209.0" y="433.8" width="1.8" height="1.8" fill="#63aeea"/><path d="M199.9,430.7V434.9M198.9,430.7h2M198.9,434.9h2" stroke="#63aeea" stroke-width="0.55"/><rect x="199.0" y="431.9" width="1.8" height="1.8" fill="#63aeea"/><path d="M190.0,429.3V434.0M189.0,429.3h2M189.0,434.0h2" stroke="#63aeea" stroke-width="0.55"/><rect x="189.1" y="430.7" width="1.8" height="1.8" fill="#63aeea"/><path d="M180.0,430.1V435.2M179.0,430.1h2M179.0,435.2h2" stroke="#63aeea" stroke-width="0.55"/><rect x="179.1" y="431.7" width="1.8" height="1.8" fill="#63aeea"/><path d="M170.1,428.1V433.0M169.1,428.1h2M169.1,433.0h2" stroke="#63aeea" stroke-width="0.55"/><rect x="169.2" y="429.7" width="1.8" height="1.8" fill="#63aeea"/><path d="M160.1,423.0V436.0M159.1,423.0h2M159.1,436.0h2" stroke="#63aeea" stroke-width="0.55"/><rect x="159.2" y="428.6" width="1.8" height="1.8" fill="#63aeea"/><path d="M145.4,409.30 L145.4,481.1 L250.45,481.1" fill="none" stroke="#111" stroke-width="1.3"/><line x1="142.60" y1="481.10" x2="145.4" y2="481.10" stroke="#111" stroke-width="0.8"/><text x="139.60" y="483.85" font-size="7.75" text-anchor="end" font-weight="normal" fill="#231f20" >0</text><line x1="142.60" y1="471.19" x2="145.4" y2="471.19" stroke="#111" stroke-width="0.8"/><text x="139.60" y="473.94" font-size="7.75" text-anchor="end" font-weight="normal" fill="#231f20" >20</text><line x1="142.60" y1="461.27" x2="145.4" y2="461.27" stroke="#111" stroke-width="0.8"/><text x="139.60" y="464.02" font-size="7.75" text-anchor="end" font-weight="normal" fill="#231f20" >40</text><line x1="142.60" y1="451.36" x2="145.4" y2="451.36" stroke="#111" stroke-width="0.8"/><text x="139.60" y="454.11" font-size="7.75" text-anchor="end" font-weight="normal" fill="#231f20" >60</text><line x1="142.60" y1="441.44" x2="145.4" y2="441.44" stroke="#111" stroke-width="0.8"/><text x="139.60" y="444.19" font-size="7.75" text-anchor="end" font-weight="normal" fill="#231f20" >80</text><line x1="142.60" y1="431.53" x2="145.4" y2="431.53" stroke="#111" stroke-width="0.8"/><text x="139.60" y="434.28" font-size="7.75" text-anchor="end" font-weight="normal" fill="#231f20" >100</text><line x1="142.60" y1="421.62" x2="145.4" y2="421.62" stroke="#111" stroke-width="0.8"/><text x="139.60" y="424.37" font-size="7.75" text-anchor="end" font-weight="normal" fill="#231f20" >120</text><line x1="142.60" y1="411.70" x2="145.4" y2="411.70" stroke="#111" stroke-width="0.8"/><text x="139.60" y="414.45" font-size="7.75" text-anchor="end" font-weight="normal" fill="#231f20" >140</text><line x1="145.40" y1="481.1" x2="145.40" y2="483.90" stroke="#111" stroke-width="1.0"/><text x="145.05" y="494.10" font-size="7.6" text-anchor="middle" font-weight="normal" fill="#231f20" >-4</text><line x1="166.25" y1="481.1" x2="166.25" y2="483.90" stroke="#111" stroke-width="1.0"/><text x="166.80" y="494.10" font-size="7.6" text-anchor="middle" font-weight="normal" fill="#231f20" >-3</text><line x1="187.10" y1="481.1" x2="187.10" y2="483.90" stroke="#111" stroke-width="1.0"/><text x="187.90" y="494.10" font-size="7.6" text-anchor="middle" font-weight="normal" fill="#231f20" >-2</text><line x1="207.95" y1="481.1" x2="207.95" y2="483.90" stroke="#111" stroke-width="1.0"/><text x="209.75" y="494.10" font-size="7.6" text-anchor="middle" font-weight="normal" fill="#231f20" >-1</text><line x1="228.80" y1="481.1" x2="228.80" y2="483.90" stroke="#111" stroke-width="1.0"/><text x="230.25" y="494.10" font-size="7.6" text-anchor="middle" font-weight="normal" fill="#231f20" >0</text><line x1="249.65" y1="481.1" x2="249.65" y2="483.90" stroke="#111" stroke-width="1.0"/><text x="249.75" y="494.10" font-size="7.6" text-anchor="middle" font-weight="normal" fill="#231f20" >1</text><text x="365.30" y="406.80" font-size="7.86" text-anchor="middle" font-weight="normal" fill="#231f20" >Tofacitinib</text><text class="ax" transform="translate(276.20,446.40) rotate(-90) scale(0.693,1)" font-size="9.7" text-anchor="middle" fill="#231f20">Cell viability</text><text class="ax" transform="translate(286.40,446.40) rotate(-90) scale(0.79,1)" font-size="8.7" text-anchor="middle" fill="#231f20">(% relative to control)</text><text class="ax" transform="translate(328.20,507.90) scale(0.80,1)" font-size="8.6" fill="#231f20">Log<tspan font-size="5.0" dy="2.6">10</tspan><tspan dy="-2.6"> concentration (µM)</tspan></text><path d="M328.1,435.5 L329.4,435.5 L330.6,435.6 L331.9,435.7 L333.1,435.8 L334.4,435.9 L335.6,436.0 L336.9,436.1 L338.1,436.2 L339.4,436.3 L340.6,436.4 L341.9,436.5 L343.1,436.6 L344.4,436.7 L345.6,436.8 L346.9,437.0 L348.1,437.1 L349.4,437.2 L350.6,437.4 L351.9,437.5 L353.1,437.6 L354.4,437.8 L355.6,437.9 L356.9,438.1 L358.1,438.3 L359.4,438.4 L360.6,438.6 L361.9,438.8 L363.1,438.9 L364.4,439.1 L365.6,439.3 L366.9,439.5 L368.1,439.7 L369.4,439.9 L370.6,440.1 L371.9,440.3 L373.1,440.5 L374.4,440.8 L375.6,441.0 L376.9,441.2 L378.1,441.4 L379.4,441.7 L380.6,441.9 L381.9,442.2 L383.1,442.5 L384.4,442.7 L385.6,443.0 L386.9,443.3 L388.2,443.5 L389.4,443.8 L390.7,444.1 L391.9,444.4 L393.2,444.7 L394.4,445.0 L395.7,445.3 L396.9,445.7 L398.2,446.0 L399.4,446.3 L400.7,446.7 L401.9,447.0 L403.2,447.3 L404.4,447.7 L405.7,448.0 L406.9,448.4 L408.2,448.8 L409.4,449.1 L410.7,449.5 L411.9,449.9 L413.2,450.3 L414.4,450.6 L415.7,451.0 L416.9,451.4" fill="none" stroke="#c9c9cc" stroke-width="1.45" stroke-linejoin="round"/><path d="M328.1,431.5 L329.4,431.5 L330.6,431.5 L331.9,431.5 L333.1,431.5 L334.4,431.5 L335.6,431.5 L336.9,431.5 L338.1,431.5 L339.4,431.5 L340.6,431.5 L341.9,431.5 L343.1,431.5 L344.4,431.5 L345.6,431.5 L346.9,431.5 L348.1,431.5 L349.4,431.5 L350.6,431.5 L351.9,431.6 L353.1,431.6 L354.4,431.6 L355.6,431.6 L356.9,431.6 L358.1,431.6 L359.4,431.6 L360.6,431.6 L361.9,431.6 L363.1,431.6 L364.4,431.6 L365.6,431.6 L366.9,431.6 L368.1,431.6 L369.4,431.6 L370.6,431.7 L371.9,431.7 L373.1,431.7 L374.4,431.7 L375.6,431.8 L376.9,431.8 L378.1,431.8 L379.4,431.9 L380.6,431.9 L381.9,431.9 L383.1,432.0 L384.4,432.1 L385.6,432.1 L386.9,432.2 L388.2,432.3 L389.4,432.4 L390.7,432.5 L391.9,432.6 L393.2,432.8 L394.4,432.9 L395.7,433.1 L396.9,433.3 L398.2,433.5 L399.4,433.8 L400.7,434.1 L401.9,434.4 L403.2,434.7 L404.4,435.1 L405.7,435.6 L406.9,436.0 L408.2,436.6 L409.4,437.2 L410.7,437.8 L411.9,438.5 L413.2,439.3 L414.4,440.2 L415.7,441.1 L416.9,442.1" fill="none" stroke="#3c4258" stroke-width="1.45" stroke-linejoin="round"/><path d="M328.1,431.6 L329.4,431.6 L330.6,431.6 L331.9,431.6 L333.1,431.6 L334.4,431.6 L335.6,431.6 L336.9,431.6 L338.1,431.6 L339.4,431.6 L340.6,431.6 L341.9,431.6 L343.1,431.6 L344.4,431.6 L345.6,431.6 L346.9,431.6 L348.1,431.6 L349.4,431.6 L350.6,431.6 L351.9,431.7 L353.1,431.7 L354.4,431.7 L355.6,431.7 L356.9,431.7 L358.1,431.7 L359.4,431.7 L360.6,431.7 L361.9,431.8 L363.1,431.8 L364.4,431.8 L365.6,431.8 L366.9,431.9 L368.1,431.9 L369.4,431.9 L370.6,431.9 L371.9,432.0 L373.1,432.0 L374.4,432.1 L375.6,432.1 L376.9,432.2 L378.1,432.2 L379.4,432.3 L380.6,432.3 L381.9,432.4 L383.1,432.5 L384.4,432.6 L385.6,432.6 L386.9,432.7 L388.2,432.8 L389.4,433.0 L390.7,433.1 L391.9,433.2 L393.2,433.3 L394.4,433.5 L395.7,433.6 L396.9,433.8 L398.2,434.0 L399.4,434.2 L400.7,434.4 L401.9,434.7 L403.2,434.9 L404.4,435.2 L405.7,435.5 L406.9,435.8 L408.2,436.1 L409.4,436.5 L410.7,436.9 L411.9,437.3 L413.2,437.7 L414.4,438.2 L415.7,438.7 L416.9,439.2" fill="none" stroke="#b8651c" stroke-width="1.45" stroke-linejoin="round"/><path d="M328.1,432.6 L329.4,432.7 L330.6,432.8 L331.9,433.0 L333.1,433.1 L334.4,433.3 L335.6,433.5 L336.9,433.7 L338.1,433.9 L339.4,434.2 L340.6,434.4 L341.9,434.7 L343.1,435.0 L344.4,435.4 L345.6,435.8 L346.9,436.2 L348.1,436.7 L349.4,437.2 L350.6,437.7 L351.9,438.3 L353.1,438.9 L354.4,439.6 L355.6,440.3 L356.9,441.1 L358.1,441.9 L359.4,442.8 L360.6,443.7 L361.9,444.7 L363.1,445.7 L364.4,446.8 L365.6,447.9 L366.9,449.0 L368.1,450.2 L369.4,451.5 L370.6,452.7 L371.9,454.0 L373.1,455.2 L374.4,456.5 L375.6,457.8 L376.9,459.1 L378.1,460.3 L379.4,461.6 L380.6,462.8 L381.9,464.0 L383.1,465.1 L384.4,466.2 L385.6,467.3 L386.9,468.3 L388.2,469.2 L389.4,470.2 L390.7,471.0 L391.9,471.8 L393.2,472.6 L394.4,473.3 L395.7,473.9 L396.9,474.6 L398.2,475.1 L399.4,475.6 L400.7,476.1 L401.9,476.6 L403.2,477.0 L404.4,477.4 L405.7,477.7 L406.9,478.0 L408.2,478.3 L409.4,478.6 L410.7,478.8 L411.9,479.0 L413.2,479.2 L414.4,479.4 L415.7,479.6 L416.9,479.7" fill="none" stroke="#5fb236" stroke-width="1.45" stroke-linejoin="round"/><path d="M328.1,433.0 L329.4,433.2 L330.6,433.4 L331.9,433.6 L333.1,433.9 L334.4,434.2 L335.6,434.5 L336.9,434.9 L338.1,435.3 L339.4,435.7 L340.6,436.2 L341.9,436.8 L343.1,437.4 L344.4,438.1 L345.6,438.8 L346.9,439.6 L348.1,440.5 L349.4,441.4 L350.6,442.4 L351.9,443.5 L353.1,444.7 L354.4,445.9 L355.6,447.3 L356.9,448.6 L358.1,450.0 L359.4,451.5 L360.6,453.0 L361.9,454.5 L363.1,456.1 L364.4,457.6 L365.6,459.1 L366.9,460.6 L368.1,462.1 L369.4,463.5 L370.6,464.9 L371.9,466.3 L373.1,467.5 L374.4,468.7 L375.6,469.8 L376.9,470.9 L378.1,471.8 L379.4,472.7 L380.6,473.6 L381.9,474.3 L383.1,475.0 L384.4,475.7 L385.6,476.2 L386.9,476.8 L388.2,477.2 L389.4,477.6 L390.7,478.0 L391.9,478.4 L393.2,478.7 L394.4,478.9 L395.7,479.2 L396.9,479.4 L398.2,479.6 L399.4,479.8 L400.7,479.9 L401.9,480.1 L403.2,480.2 L404.4,480.3 L405.7,480.4 L406.9,480.5 L408.2,480.5 L409.4,480.6 L410.7,480.7 L411.9,480.7 L413.2,480.8 L414.4,480.8 L415.7,480.8 L416.9,480.9" fill="none" stroke="#1f5c3c" stroke-width="1.45" stroke-linejoin="round"/><path d="M328.1,431.5 L329.4,431.5 L330.6,431.5 L331.9,431.5 L333.1,431.5 L334.4,431.6 L335.6,431.6 L336.9,431.6 L338.1,431.6 L339.4,431.6 L340.6,431.6 L341.9,431.6 L343.1,431.6 L344.4,431.6 L345.6,431.6 L346.9,431.6 L348.1,431.7 L349.4,431.7 L350.6,431.7 L351.9,431.7 L353.1,431.8 L354.4,431.8 L355.6,431.8 L356.9,431.9 L358.1,431.9 L359.4,432.0 L360.6,432.1 L361.9,432.2 L363.1,432.3 L364.4,432.4 L365.6,432.5 L366.9,432.7 L368.1,432.9 L369.4,433.1 L370.6,433.3 L371.9,433.6 L373.1,434.0 L374.4,434.3 L375.6,434.8 L376.9,435.3 L378.1,435.8 L379.4,436.5 L380.6,437.2 L381.9,438.0 L383.1,438.9 L384.4,439.9 L385.6,441.0 L386.9,442.2 L388.2,443.5 L389.4,445.0 L390.7,446.5 L391.9,448.2 L393.2,449.9 L394.4,451.7 L395.7,453.5 L396.9,455.4 L398.2,457.3 L399.4,459.1 L400.7,461.0 L401.9,462.8 L403.2,464.5 L404.4,466.1 L405.7,467.6 L406.9,469.1 L408.2,470.4 L409.4,471.6 L410.7,472.7 L411.9,473.7 L413.2,474.6 L414.4,475.5 L415.7,476.2 L416.9,476.8" fill="none" stroke="#1f3b78" stroke-width="1.45" stroke-linejoin="round"/><path d="M328.1,431.5 L329.4,431.5 L330.6,431.6 L331.9,431.6 L333.1,431.6 L334.4,431.6 L335.6,431.6 L336.9,431.6 L338.1,431.6 L339.4,431.6 L340.6,431.6 L341.9,431.6 L343.1,431.6 L344.4,431.6 L345.6,431.6 L346.9,431.6 L348.1,431.6 L349.4,431.7 L350.6,431.7 L351.9,431.7 L353.1,431.7 L354.4,431.7 L355.6,431.8 L356.9,431.8 L358.1,431.8 L359.4,431.9 L360.6,431.9 L361.9,432.0 L363.1,432.0 L364.4,432.1 L365.6,432.2 L366.9,432.3 L368.1,432.4 L369.4,432.5 L370.6,432.6 L371.9,432.7 L373.1,432.9 L374.4,433.0 L375.6,433.2 L376.9,433.4 L378.1,433.7 L379.4,434.0 L380.6,434.3 L381.9,434.6 L383.1,435.0 L384.4,435.4 L385.6,435.9 L386.9,436.4 L388.2,437.0 L389.4,437.6 L390.7,438.3 L391.9,439.1 L393.2,439.9 L394.4,440.8 L395.7,441.8 L396.9,442.8 L398.2,443.9 L399.4,445.1 L400.7,446.4 L401.9,447.7 L403.2,449.1 L404.4,450.5 L405.7,452.0 L406.9,453.5 L408.2,455.0 L409.4,456.6 L410.7,458.1 L411.9,459.6 L413.2,461.1 L414.4,462.6 L415.7,464.0 L416.9,465.4" fill="none" stroke="#b0102e" stroke-width="1.45" stroke-linejoin="round"/><path d="M328.1,431.1 L329.4,431.2 L330.6,431.2 L331.9,431.3 L333.1,431.3 L334.4,431.4 L335.6,431.5 L336.9,431.5 L338.1,431.6 L339.4,431.7 L340.6,431.8 L341.9,431.9 L343.1,432.0 L344.4,432.2 L345.6,432.3 L346.9,432.5 L348.1,432.6 L349.4,432.8 L350.6,433.0 L351.9,433.2 L353.1,433.4 L354.4,433.6 L355.6,433.9 L356.9,434.1 L358.1,434.4 L359.4,434.7 L360.6,435.1 L361.9,435.4 L363.1,435.8 L364.4,436.2 L365.6,436.6 L366.9,437.1 L368.1,437.6 L369.4,438.1 L370.6,438.6 L371.9,439.2 L373.1,439.8 L374.4,440.5 L375.6,441.1 L376.9,441.9 L378.1,442.6 L379.4,443.4 L380.6,444.2 L381.9,445.0 L383.1,445.9 L384.4,446.8 L385.6,447.7 L386.9,448.7 L388.2,449.7 L389.4,450.7 L390.7,451.7 L391.9,452.7 L393.2,453.7 L394.4,454.8 L395.7,455.8 L396.9,456.9 L398.2,457.9 L399.4,458.9 L400.7,460.0 L401.9,461.0 L403.2,462.0 L404.4,463.0 L405.7,463.9 L406.9,464.8 L408.2,465.7 L409.4,466.6 L410.7,467.4 L411.9,468.3 L413.2,469.0 L414.4,469.8 L415.7,470.5 L416.9,471.2" fill="none" stroke="#d5137f" stroke-width="1.45" stroke-linejoin="round"/><path d="M328.1,431.5 L329.4,431.5 L330.6,431.5 L331.9,431.5 L333.1,431.5 L334.4,431.5 L335.6,431.5 L336.9,431.5 L338.1,431.6 L339.4,431.6 L340.6,431.6 L341.9,431.6 L343.1,431.6 L344.4,431.6 L345.6,431.6 L346.9,431.6 L348.1,431.6 L349.4,431.6 L350.6,431.6 L351.9,431.6 L353.1,431.7 L354.4,431.7 L355.6,431.7 L356.9,431.7 L358.1,431.8 L359.4,431.8 L360.6,431.8 L361.9,431.9 L363.1,432.0 L364.4,432.0 L365.6,432.1 L366.9,432.2 L368.1,432.3 L369.4,432.4 L370.6,432.6 L371.9,432.7 L373.1,432.9 L374.4,433.1 L375.6,433.4 L376.9,433.7 L378.1,434.0 L379.4,434.4 L380.6,434.8 L381.9,435.4 L383.1,435.9 L384.4,436.6 L385.6,437.3 L386.9,438.1 L388.2,439.0 L389.4,440.1 L390.7,441.2 L391.9,442.4 L393.2,443.8 L394.4,445.2 L395.7,446.8 L396.9,448.4 L398.2,450.2 L399.4,452.0 L400.7,453.8 L401.9,455.7 L403.2,457.6 L404.4,459.4 L405.7,461.3 L406.9,463.0 L408.2,464.8 L409.4,466.4 L410.7,467.9 L411.9,469.3 L413.2,470.6 L414.4,471.8 L415.7,472.9 L416.9,473.9" fill="none" stroke="#9a8cd8" stroke-width="1.45" stroke-linejoin="round"/><path d="M328.1,431.5 L329.4,431.5 L330.6,431.5 L331.9,431.5 L333.1,431.5 L334.4,431.5 L335.6,431.5 L336.9,431.5 L338.1,431.6 L339.4,431.6 L340.6,431.6 L341.9,431.6 L343.1,431.6 L344.4,431.6 L345.6,431.6 L346.9,431.6 L348.1,431.6 L349.4,431.6 L350.6,431.6 L351.9,431.6 L353.1,431.7 L354.4,431.7 L355.6,431.7 L356.9,431.7 L358.1,431.8 L359.4,431.8 L360.6,431.9 L361.9,431.9 L363.1,432.0 L364.4,432.0 L365.6,432.1 L366.9,432.2 L368.1,432.3 L369.4,432.5 L370.6,432.6 L371.9,432.8 L373.1,433.0 L374.4,433.2 L375.6,433.5 L376.9,433.8 L378.1,434.1 L379.4,434.5 L380.6,435.0 L381.9,435.5 L383.1,436.1 L384.4,436.8 L385.6,437.6 L386.9,438.4 L388.2,439.4 L389.4,440.4 L390.7,441.6 L391.9,442.9 L393.2,444.2 L394.4,445.7 L395.7,447.3 L396.9,449.0 L398.2,450.8 L399.4,452.6 L400.7,454.4 L401.9,456.3 L403.2,458.2 L404.4,460.1 L405.7,461.9 L406.9,463.6 L408.2,465.3 L409.4,466.9 L410.7,468.4 L411.9,469.8 L413.2,471.0 L414.4,472.2 L415.7,473.3 L416.9,474.2" fill="none" stroke="#62b2f0" stroke-width="1.8" stroke-linejoin="round"/><rect x="416.7" y="448.6" width="1.8" height="1.8" fill="#cfcfd6"/><path d="M407.6,446.7V451.7M406.6,446.7h2M406.6,451.7h2" stroke="#cfcfd6" stroke-width="0.55"/><rect x="406.7" y="448.3" width="1.8" height="1.8" fill="#cfcfd6"/><rect x="396.8" y="444.8" width="1.8" height="1.8" fill="#cfcfd6"/><rect x="386.8" y="443.3" width="1.8" height="1.8" fill="#cfcfd6"/><path d="M377.8,441.9V446.8M376.8,441.9h2M376.8,446.8h2" stroke="#cfcfd6" stroke-width="0.55"/><rect x="376.9" y="443.5" width="1.8" height="1.8" fill="#cfcfd6"/><rect x="366.9" y="438.1" width="1.8" height="1.8" fill="#cfcfd6"/><rect x="357.0" y="436.1" width="1.8" height="1.8" fill="#cfcfd6"/><rect x="347.0" y="436.0" width="1.8" height="1.8" fill="#cfcfd6"/><path d="M338.0,434.5V437.6M337.0,434.5h2M337.0,437.6h2" stroke="#cfcfd6" stroke-width="0.55"/><rect x="337.1" y="435.1" width="1.8" height="1.8" fill="#cfcfd6"/><path d="M328.0,434.2V439.2M327.0,434.2h2M327.0,439.2h2" stroke="#cfcfd6" stroke-width="0.55"/><rect x="327.1" y="435.8" width="1.8" height="1.8" fill="#cfcfd6"/><path d="M417.6,440.1V445.8M416.6,440.1h2M416.6,445.8h2" stroke="#495066" stroke-width="0.55"/><rect x="416.7" y="442.1" width="1.8" height="1.8" fill="#495066"/><path d="M407.6,437.4V441.1M406.6,437.4h2M406.6,441.1h2" stroke="#495066" stroke-width="0.55"/><rect x="406.7" y="438.4" width="1.8" height="1.8" fill="#495066"/><path d="M397.7,434.9V438.5M396.7,434.9h2M396.7,438.5h2" stroke="#495066" stroke-width="0.55"/><rect x="396.8" y="435.8" width="1.8" height="1.8" fill="#495066"/><path d="M387.7,430.1V434.4M386.7,430.1h2M386.7,434.4h2" stroke="#495066" stroke-width="0.55"/><rect x="386.8" y="431.3" width="1.8" height="1.8" fill="#495066"/><path d="M377.8,433.5V438.3M376.8,433.5h2M376.8,438.3h2" stroke="#495066" stroke-width="0.55"/><rect x="376.9" y="435.0" width="1.8" height="1.8" fill="#495066"/><path d="M367.8,431.5V435.0M366.8,431.5h2M366.8,435.0h2" stroke="#495066" stroke-width="0.55"/><rect x="366.9" y="432.3" width="1.8" height="1.8" fill="#495066"/><path d="M357.9,429.7V433.5M356.9,429.7h2M356.9,433.5h2" stroke="#495066" stroke-width="0.55"/><rect x="357.0" y="430.7" width="1.8" height="1.8" fill="#495066"/><path d="M347.9,424.5V436.2M346.9,424.5h2M346.9,436.2h2" stroke="#495066" stroke-width="0.55"/><rect x="347.0" y="429.4" width="1.8" height="1.8" fill="#495066"/><path d="M338.0,423.9V433.0M337.0,423.9h2M337.0,433.0h2" stroke="#495066" stroke-width="0.55"/><rect x="337.1" y="427.5" width="1.8" height="1.8" fill="#495066"/><path d="M328.0,427.7V436.2M327.0,427.7h2M327.0,436.2h2" stroke="#495066" stroke-width="0.55"/><rect x="327.1" y="431.1" width="1.8" height="1.8" fill="#495066"/><path d="M417.6,434.8V441.7M416.6,434.8h2M416.6,441.7h2" stroke="#bd6a1a" stroke-width="0.55"/><rect x="416.7" y="437.3" width="1.8" height="1.8" fill="#bd6a1a"/><path d="M407.6,433.7V438.2M406.6,433.7h2M406.6,438.2h2" stroke="#bd6a1a" stroke-width="0.55"/><rect x="406.7" y="435.1" width="1.8" height="1.8" fill="#bd6a1a"/><path d="M397.7,431.7V434.6M396.7,431.7h2M396.7,434.6h2" stroke="#bd6a1a" stroke-width="0.55"/><rect x="396.8" y="432.3" width="1.8" height="1.8" fill="#bd6a1a"/><path d="M387.7,425.5V437.8M386.7,425.5h2M386.7,437.8h2" stroke="#bd6a1a" stroke-width="0.55"/><rect x="386.8" y="430.7" width="1.8" height="1.8" fill="#bd6a1a"/><path d="M377.8,427.3V433.3M376.8,427.3h2M376.8,433.3h2" stroke="#bd6a1a" stroke-width="0.55"/><rect x="376.9" y="429.4" width="1.8" height="1.8" fill="#bd6a1a"/><rect x="366.9" y="425.3" width="1.8" height="1.8" fill="#bd6a1a"/><path d="M357.9,431.7V437.8M356.9,431.7h2M356.9,437.8h2" stroke="#bd6a1a" stroke-width="0.55"/><rect x="357.0" y="433.9" width="1.8" height="1.8" fill="#bd6a1a"/><path d="M347.9,428.3V435.8M346.9,428.3h2M346.9,435.8h2" stroke="#bd6a1a" stroke-width="0.55"/><rect x="347.0" y="431.1" width="1.8" height="1.8" fill="#bd6a1a"/><path d="M338.0,430.7V437.4M337.0,430.7h2M337.0,437.4h2" stroke="#bd6a1a" stroke-width="0.55"/><rect x="337.1" y="433.2" width="1.8" height="1.8" fill="#bd6a1a"/><path d="M328.0,422.5V438.8M327.0,422.5h2M327.0,438.8h2" stroke="#bd6a1a" stroke-width="0.55"/><rect x="327.1" y="429.8" width="1.8" height="1.8" fill="#bd6a1a"/><rect x="416.7" y="476.9" width="1.8" height="1.8" fill="#66b032"/><rect x="406.7" y="474.6" width="1.8" height="1.8" fill="#66b032"/><path d="M397.7,471.8V474.6M396.7,471.8h2M396.7,474.6h2" stroke="#66b032" stroke-width="0.55"/><rect x="396.8" y="472.3" width="1.8" height="1.8" fill="#66b032"/><rect x="386.8" y="470.5" width="1.8" height="1.8" fill="#66b032"/><path d="M377.8,457.4V462.0M376.8,457.4h2M376.8,462.0h2" stroke="#66b032" stroke-width="0.55"/><rect x="376.9" y="458.8" width="1.8" height="1.8" fill="#66b032"/><path d="M367.8,450.4V454.4M366.8,450.4h2M366.8,454.4h2" stroke="#66b032" stroke-width="0.55"/><rect x="366.9" y="451.5" width="1.8" height="1.8" fill="#66b032"/><path d="M357.9,440.6V446.0M356.9,440.6h2M356.9,446.0h2" stroke="#66b032" stroke-width="0.55"/><rect x="357.0" y="442.4" width="1.8" height="1.8" fill="#66b032"/><path d="M347.9,433.8V441.8M346.9,433.8h2M346.9,441.8h2" stroke="#66b032" stroke-width="0.55"/><rect x="347.0" y="436.9" width="1.8" height="1.8" fill="#66b032"/><path d="M338.0,429.4V439.9M337.0,429.4h2M337.0,439.9h2" stroke="#66b032" stroke-width="0.55"/><rect x="337.1" y="433.8" width="1.8" height="1.8" fill="#66b032"/><path d="M328.0,422.2V440.1M327.0,422.2h2M327.0,440.1h2" stroke="#66b032" stroke-width="0.55"/><rect x="327.1" y="430.3" width="1.8" height="1.8" fill="#66b032"/><path d="M417.6,477.8V484.4M416.6,477.8h2M416.6,484.4h2" stroke="#2a6446" stroke-width="0.55"/><rect x="416.7" y="480.2" width="1.8" height="1.8" fill="#2a6446"/><path d="M407.6,478.1V481.4M406.6,478.1h2M406.6,481.4h2" stroke="#2a6446" stroke-width="0.55"/><rect x="406.7" y="478.8" width="1.8" height="1.8" fill="#2a6446"/><rect x="396.8" y="478.4" width="1.8" height="1.8" fill="#2a6446"/><path d="M387.7,477.7V482.3M386.7,477.7h2M386.7,482.3h2" stroke="#2a6446" stroke-width="0.55"/><rect x="386.8" y="479.1" width="1.8" height="1.8" fill="#2a6446"/><path d="M377.8,467.1V470.5M376.8,467.1h2M376.8,470.5h2" stroke="#2a6446" stroke-width="0.55"/><rect x="376.9" y="467.9" width="1.8" height="1.8" fill="#2a6446"/><path d="M367.8,459.9V465.5M366.8,459.9h2M366.8,465.5h2" stroke="#2a6446" stroke-width="0.55"/><rect x="366.9" y="461.8" width="1.8" height="1.8" fill="#2a6446"/><path d="M357.9,448.4V452.0M356.9,448.4h2M356.9,452.0h2" stroke="#2a6446" stroke-width="0.55"/><rect x="357.0" y="449.3" width="1.8" height="1.8" fill="#2a6446"/><path d="M347.9,433.6V439.2M346.9,433.6h2M346.9,439.2h2" stroke="#2a6446" stroke-width="0.55"/><rect x="347.0" y="435.5" width="1.8" height="1.8" fill="#2a6446"/><path d="M338.0,431.5V440.5M337.0,431.5h2M337.0,440.5h2" stroke="#2a6446" stroke-width="0.55"/><rect x="337.1" y="435.1" width="1.8" height="1.8" fill="#2a6446"/><path d="M328.0,420.6V447.2M327.0,420.6h2M327.0,447.2h2" stroke="#2a6446" stroke-width="0.55"/><rect x="327.1" y="433.0" width="1.8" height="1.8" fill="#2a6446"/><rect x="416.7" y="476.7" width="1.8" height="1.8" fill="#22427e"/><rect x="406.7" y="469.5" width="1.8" height="1.8" fill="#22427e"/><rect x="396.8" y="457.5" width="1.8" height="1.8" fill="#22427e"/><rect x="386.8" y="443.6" width="1.8" height="1.8" fill="#22427e"/><path d="M377.8,432.9V437.2M376.8,432.9h2M376.8,437.2h2" stroke="#22427e" stroke-width="0.55"/><rect x="376.9" y="434.2" width="1.8" height="1.8" fill="#22427e"/><path d="M367.8,427.8V433.5M366.8,427.8h2M366.8,433.5h2" stroke="#22427e" stroke-width="0.55"/><rect x="366.9" y="429.7" width="1.8" height="1.8" fill="#22427e"/><path d="M357.9,427.5V431.7M356.9,427.5h2M356.9,431.7h2" stroke="#22427e" stroke-width="0.55"/><rect x="357.0" y="428.7" width="1.8" height="1.8" fill="#22427e"/><path d="M347.9,434.0V436.8M346.9,434.0h2M346.9,436.8h2" stroke="#22427e" stroke-width="0.55"/><rect x="347.0" y="434.5" width="1.8" height="1.8" fill="#22427e"/><path d="M338.0,429.4V433.2M337.0,429.4h2M337.0,433.2h2" stroke="#22427e" stroke-width="0.55"/><rect x="337.1" y="430.4" width="1.8" height="1.8" fill="#22427e"/><path d="M328.0,428.1V431.5M327.0,428.1h2M327.0,431.5h2" stroke="#22427e" stroke-width="0.55"/><rect x="327.1" y="428.9" width="1.8" height="1.8" fill="#22427e"/><rect x="416.7" y="468.0" width="1.8" height="1.8" fill="#a3132e"/><rect x="406.7" y="452.5" width="1.8" height="1.8" fill="#a3132e"/><rect x="396.8" y="435.4" width="1.8" height="1.8" fill="#a3132e"/><path d="M387.7,433.7V438.8M386.7,433.7h2M386.7,438.8h2" stroke="#a3132e" stroke-width="0.55"/><rect x="386.8" y="435.4" width="1.8" height="1.8" fill="#a3132e"/><rect x="376.9" y="432.2" width="1.8" height="1.8" fill="#a3132e"/><path d="M367.8,428.9V431.4M366.8,428.9h2M366.8,431.4h2" stroke="#a3132e" stroke-width="0.55"/><rect x="366.9" y="429.3" width="1.8" height="1.8" fill="#a3132e"/><path d="M357.9,426.7V432.6M356.9,426.7h2M356.9,432.6h2" stroke="#a3132e" stroke-width="0.55"/><rect x="357.0" y="428.8" width="1.8" height="1.8" fill="#a3132e"/><path d="M347.9,427.8V435.4M346.9,427.8h2M346.9,435.4h2" stroke="#a3132e" stroke-width="0.55"/><rect x="347.0" y="430.7" width="1.8" height="1.8" fill="#a3132e"/><path d="M338.0,428.5V434.7M337.0,428.5h2M337.0,434.7h2" stroke="#a3132e" stroke-width="0.55"/><rect x="337.1" y="430.7" width="1.8" height="1.8" fill="#a3132e"/><path d="M328.0,423.7V438.7M327.0,423.7h2M327.0,438.7h2" stroke="#a3132e" stroke-width="0.55"/><rect x="327.1" y="430.3" width="1.8" height="1.8" fill="#a3132e"/><rect x="416.7" y="472.5" width="1.8" height="1.8" fill="#d5137f"/><path d="M407.6,462.8V465.9M406.6,462.8h2M406.6,465.9h2" stroke="#d5137f" stroke-width="0.55"/><rect x="406.7" y="463.4" width="1.8" height="1.8" fill="#d5137f"/><path d="M397.7,457.5V460.1M396.7,457.5h2M396.7,460.1h2" stroke="#d5137f" stroke-width="0.55"/><rect x="396.8" y="457.9" width="1.8" height="1.8" fill="#d5137f"/><path d="M387.7,446.0V454.2M386.7,446.0h2M386.7,454.2h2" stroke="#d5137f" stroke-width="0.55"/><rect x="386.8" y="449.2" width="1.8" height="1.8" fill="#d5137f"/><rect x="376.9" y="440.6" width="1.8" height="1.8" fill="#d5137f"/><path d="M367.8,435.4V440.7M366.8,435.4h2M366.8,440.7h2" stroke="#d5137f" stroke-width="0.55"/><rect x="366.9" y="437.2" width="1.8" height="1.8" fill="#d5137f"/><path d="M357.9,433.2V436.6M356.9,433.2h2M356.9,436.6h2" stroke="#d5137f" stroke-width="0.55"/><rect x="357.0" y="434.0" width="1.8" height="1.8" fill="#d5137f"/><path d="M347.9,429.4V431.9M346.9,429.4h2M346.9,431.9h2" stroke="#d5137f" stroke-width="0.55"/><rect x="347.0" y="429.7" width="1.8" height="1.8" fill="#d5137f"/><path d="M338.0,429.8V433.3M337.0,429.8h2M337.0,433.3h2" stroke="#d5137f" stroke-width="0.55"/><rect x="337.1" y="430.7" width="1.8" height="1.8" fill="#d5137f"/><path d="M328.0,424.3V431.1M327.0,424.3h2M327.0,431.1h2" stroke="#d5137f" stroke-width="0.55"/><rect x="327.1" y="426.8" width="1.8" height="1.8" fill="#d5137f"/><rect x="416.7" y="470.9" width="1.8" height="1.8" fill="#948ad2"/><rect x="406.7" y="463.9" width="1.8" height="1.8" fill="#948ad2"/><rect x="396.8" y="449.5" width="1.8" height="1.8" fill="#948ad2"/><path d="M387.7,434.6V438.4M386.7,434.6h2M386.7,438.4h2" stroke="#948ad2" stroke-width="0.55"/><rect x="386.8" y="435.6" width="1.8" height="1.8" fill="#948ad2"/><path d="M377.8,432.6V436.9M376.8,432.6h2M376.8,436.9h2" stroke="#948ad2" stroke-width="0.55"/><rect x="376.9" y="433.8" width="1.8" height="1.8" fill="#948ad2"/><path d="M367.8,430.9V434.4M366.8,430.9h2M366.8,434.4h2" stroke="#948ad2" stroke-width="0.55"/><rect x="366.9" y="431.8" width="1.8" height="1.8" fill="#948ad2"/><rect x="357.0" y="432.4" width="1.8" height="1.8" fill="#948ad2"/><path d="M347.9,430.1V435.7M346.9,430.1h2M346.9,435.7h2" stroke="#948ad2" stroke-width="0.55"/><rect x="347.0" y="432.0" width="1.8" height="1.8" fill="#948ad2"/><path d="M338.0,428.2V431.7M337.0,428.2h2M337.0,431.7h2" stroke="#948ad2" stroke-width="0.55"/><rect x="337.1" y="429.1" width="1.8" height="1.8" fill="#948ad2"/><path d="M328.0,425.8V438.8M327.0,425.8h2M327.0,438.8h2" stroke="#948ad2" stroke-width="0.55"/><rect x="327.1" y="431.4" width="1.8" height="1.8" fill="#948ad2"/><rect x="416.7" y="476.6" width="1.8" height="1.8" fill="#63aeea"/><rect x="406.7" y="467.2" width="1.8" height="1.8" fill="#63aeea"/><path d="M397.7,447.1V454.7M396.7,447.1h2M396.7,454.7h2" stroke="#63aeea" stroke-width="0.55"/><rect x="396.8" y="450.0" width="1.8" height="1.8" fill="#63aeea"/><rect x="386.8" y="437.1" width="1.8" height="1.8" fill="#63aeea"/><path d="M377.8,430.0V438.0M376.8,430.0h2M376.8,438.0h2" stroke="#63aeea" stroke-width="0.55"/><rect x="376.9" y="433.1" width="1.8" height="1.8" fill="#63aeea"/><path d="M367.8,428.3V430.9M366.8,428.3h2M366.8,430.9h2" stroke="#63aeea" stroke-width="0.55"/><rect x="366.9" y="428.7" width="1.8" height="1.8" fill="#63aeea"/><path d="M357.9,424.6V436.1M356.9,424.6h2M356.9,436.1h2" stroke="#63aeea" stroke-width="0.55"/><rect x="357.0" y="429.4" width="1.8" height="1.8" fill="#63aeea"/><path d="M347.9,427.1V430.6M346.9,427.1h2M346.9,430.6h2" stroke="#63aeea" stroke-width="0.55"/><rect x="347.0" y="427.9" width="1.8" height="1.8" fill="#63aeea"/><path d="M338.0,426.9V432.4M337.0,426.9h2M337.0,432.4h2" stroke="#63aeea" stroke-width="0.55"/><rect x="337.1" y="428.8" width="1.8" height="1.8" fill="#63aeea"/><path d="M328.0,423.7V437.1M327.0,423.7h2M327.0,437.1h2" stroke="#63aeea" stroke-width="0.55"/><rect x="327.1" y="429.5" width="1.8" height="1.8" fill="#63aeea"/><path d="M313.3,409.30 L313.3,481.1 L418.35,481.1" fill="none" stroke="#111" stroke-width="1.3"/><line x1="310.50" y1="481.10" x2="313.3" y2="481.10" stroke="#111" stroke-width="0.8"/><text x="307.50" y="483.85" font-size="7.75" text-anchor="end" font-weight="normal" fill="#231f20" >0</text><line x1="310.50" y1="471.19" x2="313.3" y2="471.19" stroke="#111" stroke-width="0.8"/><text x="307.50" y="473.94" font-size="7.75" text-anchor="end" font-weight="normal" fill="#231f20" >20</text><line x1="310.50" y1="461.27" x2="313.3" y2="461.27" stroke="#111" stroke-width="0.8"/><text x="307.50" y="464.02" font-size="7.75" text-anchor="end" font-weight="normal" fill="#231f20" >40</text><line x1="310.50" y1="451.36" x2="313.3" y2="451.36" stroke="#111" stroke-width="0.8"/><text x="307.50" y="454.11" font-size="7.75" text-anchor="end" font-weight="normal" fill="#231f20" >60</text><line x1="310.50" y1="441.44" x2="313.3" y2="441.44" stroke="#111" stroke-width="0.8"/><text x="307.50" y="444.19" font-size="7.75" text-anchor="end" font-weight="normal" fill="#231f20" >80</text><line x1="310.50" y1="431.53" x2="313.3" y2="431.53" stroke="#111" stroke-width="0.8"/><text x="307.50" y="434.28" font-size="7.75" text-anchor="end" font-weight="normal" fill="#231f20" >100</text><line x1="310.50" y1="421.62" x2="313.3" y2="421.62" stroke="#111" stroke-width="0.8"/><text x="307.50" y="424.37" font-size="7.75" text-anchor="end" font-weight="normal" fill="#231f20" >120</text><line x1="310.50" y1="411.70" x2="313.3" y2="411.70" stroke="#111" stroke-width="0.8"/><text x="307.50" y="414.45" font-size="7.75" text-anchor="end" font-weight="normal" fill="#231f20" >140</text><line x1="313.30" y1="481.1" x2="313.30" y2="483.90" stroke="#111" stroke-width="1.0"/><text x="312.95" y="494.10" font-size="7.6" text-anchor="middle" font-weight="normal" fill="#231f20" >-4</text><line x1="334.15" y1="481.1" x2="334.15" y2="483.90" stroke="#111" stroke-width="1.0"/><text x="334.70" y="494.10" font-size="7.6" text-anchor="middle" font-weight="normal" fill="#231f20" >-3</text><line x1="355.00" y1="481.1" x2="355.00" y2="483.90" stroke="#111" stroke-width="1.0"/><text x="355.80" y="494.10" font-size="7.6" text-anchor="middle" font-weight="normal" fill="#231f20" >-2</text><line x1="375.85" y1="481.1" x2="375.85" y2="483.90" stroke="#111" stroke-width="1.0"/><text x="377.65" y="494.10" font-size="7.6" text-anchor="middle" font-weight="normal" fill="#231f20" >-1</text><line x1="396.70" y1="481.1" x2="396.70" y2="483.90" stroke="#111" stroke-width="1.0"/><text x="398.15" y="494.10" font-size="7.6" text-anchor="middle" font-weight="normal" fill="#231f20" >0</text><line x1="417.55" y1="481.1" x2="417.55" y2="483.90" stroke="#111" stroke-width="1.0"/><text x="417.65" y="494.10" font-size="7.6" text-anchor="middle" font-weight="normal" fill="#231f20" >1</text></svg>
<table>
<colgroup><col style="width:19px"><col style="width:152px"><col style="width:47px"><col style="width:49px"><col style="width:45px"><col style="width:44px"></colgroup>
<tr class="h1"><td></td><td>Cell type</td><td colspan="4">IC50 (µM)</td></tr>
<tr class="h2"><td></td><td></td><td>Cytarabine</td><td>Clofarabine</td><td>Ruxolitinib</td><td>Tofacitinib</td></tr>
<tr class="h3"><td></td><td></td><td></td><td></td><td></td><td></td></tr>
<tr class="r"><td class="sw"><span style="background:#66b032"></span></td><td class="nm">M07e <i>C-GLIS</i>2 AMKL cell line</td><td>0.043</td><td>0.007</td><td>0.027</td><td>0.081</td></tr><tr class="r"><td class="sw"><span style="background:#2a6446"></span></td><td class="nm">CMK D-S AMKL cell line</td><td>0.031</td><td>0.017</td><td>0.018</td><td>0.023</td></tr><tr class="r"><td class="sw"><span style="background:#a3132e"></span></td><td class="nm">1ary N5A xAMKL-4 (E771)</td><td>0.009</td><td>0.011</td><td>0.274</td><td>1.186</td></tr><tr class="r"><td class="sw"><span style="background:#d5137f"></span></td><td class="nm">2ary N5A xAMKL-3 (G662)</td><td>0.023</td><td>0.016</td><td>0.217</td><td>0.663</td></tr><tr class="r"><td class="sw"><span style="background:#948ad2"></span></td><td class="nm" style="padding-left:2.2px">2ary NTF AMKL PDX (I603)</td><td>0.007</td><td>0.011</td><td>0.425</td><td>2.601</td></tr><tr class="r"><td class="sw"><span style="background:#63aeea"></span></td><td class="nm" style="padding-left:2.2px">2ary NTF AMKL PDX (I604)</td><td>0.009</td><td>0.011</td><td>0.359</td><td>2.175</td></tr><tr class="r"><td class="sw"><span style="background:#22427e"></span></td><td class="nm" style="padding-left:2.2px">2ary NTF AMKL PDX (I941)</td><td>0.016</td><td>0.020</td><td>0.662</td><td>3.008</td></tr><tr class="r"><td class="sw"><span style="background:#cfcfd6"></span></td><td class="nm">CB-CD34<sup>+</sup>-5/6</td><td>0.011</td><td>0.008</td><td>&gt;10</td><td>&gt;10</td></tr><tr class="r"><td class="sw"><span style="background:#495066"></span></td><td class="nm">CB-CD34<sup>+</sup>-7</td><td>0.012</td><td>0.006</td><td>&gt;10</td><td>&gt;10</td></tr><tr class="r"><td class="sw"><span style="background:#bd6a1a"></span></td><td class="nm">ML-2 <i>KMT2A</i> r AML cell line</td><td>0.049</td><td>0.103</td><td>&gt;10</td><td>&gt;10</td></tr>
</table>
<div id="frame"></div>
</body></html>
